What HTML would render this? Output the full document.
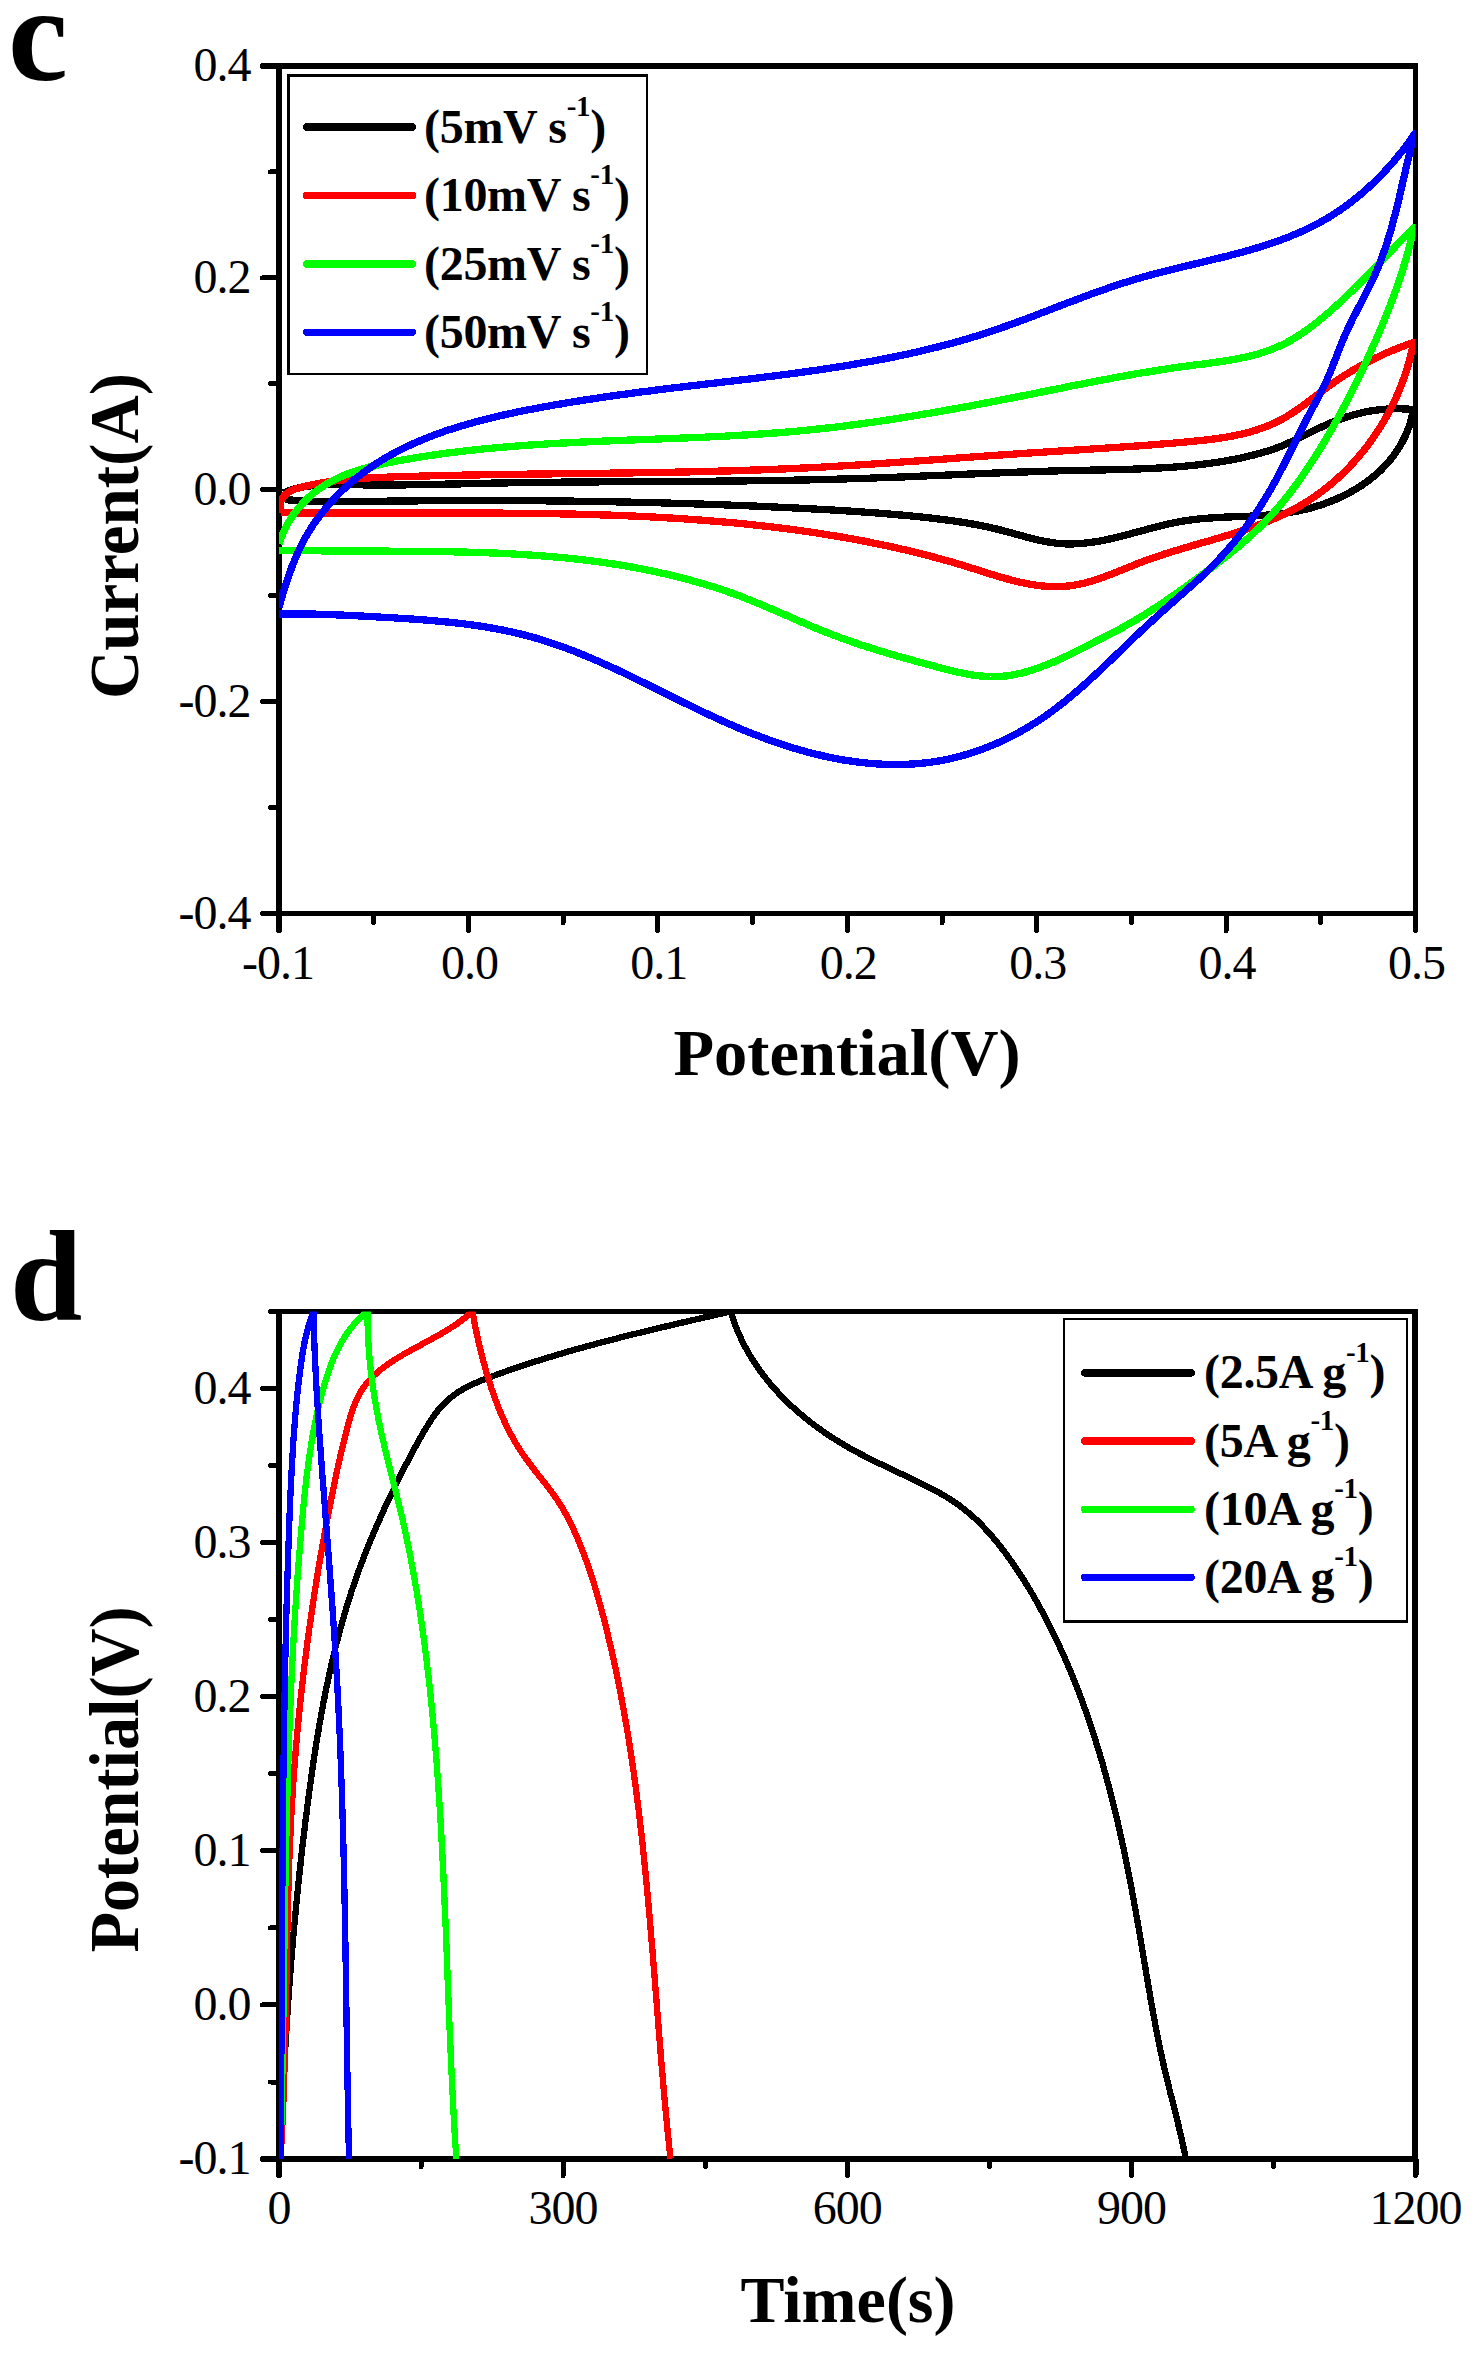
<!DOCTYPE html><html><head><meta charset="utf-8"><style>html,body{margin:0;padding:0;background:#fff;}svg{display:block;}text{font-family:"Liberation Serif",serif;}</style></head><body>
<svg xmlns="http://www.w3.org/2000/svg" width="1476" height="2354" viewBox="0 0 1476 2354" shape-rendering="crispEdges">
<rect width="1476" height="2354" fill="#fff"/>
<defs><clipPath id="cc"><rect x="279.0" y="66.0" width="1136.5" height="847.5"/></clipPath>
<clipPath id="cd"><rect x="279.0" y="1311.5" width="1136.5" height="847.5"/></clipPath></defs>
<text x="8" y="80" font-size="135" font-weight="bold">c</text>
<text x="10" y="1320" font-size="130" font-weight="bold">d</text>
<g fill="#000"><rect x="276" y="63" width="1142" height="6"/><rect x="276" y="911" width="1142" height="5"/><rect x="276" y="63" width="6" height="853"/><rect x="1413" y="63" width="5" height="853"/></g><g stroke="#000" stroke-linecap="round"><line x1="279.0" y1="913.5" x2="279.0" y2="930.0" stroke-width="6"/><line x1="468.4" y1="913.5" x2="468.4" y2="930.5" stroke-width="5"/><line x1="657.8" y1="913.5" x2="657.8" y2="930.5" stroke-width="5"/><line x1="847.3" y1="913.5" x2="847.3" y2="930.5" stroke-width="5"/><line x1="1036.7" y1="913.5" x2="1036.7" y2="930.5" stroke-width="5"/><line x1="1226.1" y1="913.5" x2="1226.1" y2="930.5" stroke-width="5"/><line x1="1415.5" y1="913.5" x2="1415.5" y2="930.5" stroke-width="5"/><line x1="373.7" y1="913.5" x2="373.7" y2="922.5" stroke-width="5"/><line x1="563.1" y1="913.5" x2="563.1" y2="922.5" stroke-width="5"/><line x1="752.5" y1="913.5" x2="752.5" y2="922.5" stroke-width="5"/><line x1="942.0" y1="913.5" x2="942.0" y2="922.5" stroke-width="5"/><line x1="1131.4" y1="913.5" x2="1131.4" y2="922.5" stroke-width="5"/><line x1="1320.8" y1="913.5" x2="1320.8" y2="922.5" stroke-width="5"/><line x1="279.0" y1="66.0" x2="263.0" y2="66.0" stroke-width="6"/><line x1="279.0" y1="277.9" x2="262.5" y2="277.9" stroke-width="5"/><line x1="279.0" y1="489.8" x2="262.5" y2="489.8" stroke-width="5"/><line x1="279.0" y1="701.6" x2="262.5" y2="701.6" stroke-width="5"/><line x1="279.0" y1="913.5" x2="262.5" y2="913.5" stroke-width="5"/><line x1="279.0" y1="807.6" x2="270.5" y2="807.6" stroke-width="5"/><line x1="279.0" y1="595.7" x2="270.5" y2="595.7" stroke-width="5"/><line x1="279.0" y1="383.8" x2="270.5" y2="383.8" stroke-width="5"/><line x1="279.0" y1="171.9" x2="270.5" y2="171.9" stroke-width="5"/></g>
<g fill="#000"><rect x="276" y="1309" width="1142" height="5"/><rect x="276" y="2156" width="1142" height="6"/><rect x="276" y="1309" width="6" height="853"/><rect x="1412" y="1309" width="6" height="853"/></g><g stroke="#000" stroke-linecap="round"><line x1="279.0" y1="2159.0" x2="279.0" y2="2175.0" stroke-width="6"/><line x1="563.1" y1="2159.0" x2="563.1" y2="2175.5" stroke-width="5"/><line x1="847.2" y1="2159.0" x2="847.2" y2="2175.5" stroke-width="5"/><line x1="1131.4" y1="2159.0" x2="1131.4" y2="2175.5" stroke-width="5"/><line x1="1415.5" y1="2159.0" x2="1415.5" y2="2175.0" stroke-width="6"/><line x1="421.1" y1="2159.0" x2="421.1" y2="2166.5" stroke-width="5"/><line x1="705.2" y1="2159.0" x2="705.2" y2="2166.5" stroke-width="5"/><line x1="989.3" y1="2159.0" x2="989.3" y2="2166.5" stroke-width="5"/><line x1="1273.4" y1="2159.0" x2="1273.4" y2="2166.5" stroke-width="5"/><line x1="279.0" y1="1388.5" x2="262.5" y2="1388.5" stroke-width="5"/><line x1="279.0" y1="1542.6" x2="262.5" y2="1542.6" stroke-width="5"/><line x1="279.0" y1="1696.7" x2="262.5" y2="1696.7" stroke-width="5"/><line x1="279.0" y1="1850.8" x2="262.5" y2="1850.8" stroke-width="5"/><line x1="279.0" y1="2004.9" x2="262.5" y2="2004.9" stroke-width="5"/><line x1="279.0" y1="2159.0" x2="263.0" y2="2159.0" stroke-width="6"/><line x1="279.0" y1="2082.0" x2="270.5" y2="2082.0" stroke-width="5"/><line x1="279.0" y1="1927.9" x2="270.5" y2="1927.9" stroke-width="5"/><line x1="279.0" y1="1773.8" x2="270.5" y2="1773.8" stroke-width="5"/><line x1="279.0" y1="1619.7" x2="270.5" y2="1619.7" stroke-width="5"/><line x1="279.0" y1="1465.6" x2="270.5" y2="1465.6" stroke-width="5"/><line x1="279.0" y1="1311.5" x2="270.5" y2="1311.5" stroke-width="5"/></g>
<g clip-path="url(#cc)" fill="none" stroke-width="7.3" stroke-linejoin="round" stroke-linecap="butt">
<path stroke="#000" d="M283.5,493.0L285.6,492.0L287.8,491.2L290.0,490.4L292.3,489.6L294.5,488.9L296.8,488.3L299.1,487.8L301.5,487.3L303.8,486.8L306.2,486.4L308.6,486.1L311.0,485.8L313.4,485.5L315.9,485.3L318.3,485.1L320.8,484.9L323.3,484.8L325.8,484.7L328.3,484.6L330.8,484.6L333.3,484.5L335.8,484.5L338.4,484.5L340.9,484.5L343.5,484.5L346.0,484.6L348.6,484.6L351.1,484.7L353.7,484.7L356.2,484.8L358.8,484.8L361.3,484.8L363.9,484.9L366.4,484.9L369.0,484.9L371.5,484.9L374.0,485.0L376.6,485.0L379.1,485.0L381.6,485.0L384.2,485.0L386.7,485.0L389.2,485.0L391.8,485.0L394.3,485.0L396.8,484.9L399.3,484.9L401.8,484.9L404.4,484.9L406.9,484.8L409.4,484.8L411.9,484.8L414.4,484.7L416.9,484.7L419.5,484.7L422.0,484.6L424.5,484.6L427.0,484.5L429.5,484.5L432.0,484.5L434.5,484.4L437.0,484.4L439.5,484.3L442.0,484.2L444.5,484.2L447.0,484.1L449.5,484.1L452.0,484.0L454.5,484.0L457.0,483.9L459.5,483.9L462.0,483.8L464.5,483.7L467.1,483.7L469.6,483.6L472.1,483.6L474.6,483.5L477.1,483.5L479.6,483.4L482.1,483.4L484.6,483.3L487.1,483.2L489.6,483.2L492.1,483.1L494.6,483.1L497.1,483.0L499.6,483.0L502.1,483.0L504.6,482.9L507.1,482.9L509.6,482.8L512.1,482.8L514.6,482.7L517.1,482.7L519.6,482.7L522.1,482.6L524.6,482.6L527.1,482.6L529.6,482.5L532.1,482.5L534.6,482.5L537.1,482.4L539.6,482.4L542.2,482.4L544.7,482.3L547.2,482.3L549.7,482.3L552.2,482.2L554.7,482.2L557.2,482.2L559.7,482.2L562.2,482.1L564.7,482.1L567.2,482.1L569.7,482.1L572.3,482.1L574.8,482.0L577.3,482.0L579.8,482.0L582.3,482.0L584.8,482.0L587.3,481.9L589.8,481.9L592.3,481.9L594.8,481.9L597.4,481.9L599.9,481.8L602.4,481.8L604.9,481.8L607.4,481.8L609.9,481.8L612.4,481.8L614.9,481.8L617.5,481.7L620.0,481.7L622.5,481.7L625.0,481.7L627.5,481.7L630.0,481.7L632.5,481.7L635.0,481.6L637.6,481.6L640.1,481.6L642.6,481.6L645.1,481.6L647.6,481.6L650.1,481.6L652.6,481.5L655.1,481.5L657.7,481.5L660.2,481.5L662.7,481.5L665.2,481.5L667.7,481.5L670.2,481.5L672.7,481.4L675.3,481.4L677.8,481.4L680.3,481.4L682.8,481.4L685.3,481.4L687.8,481.4L690.3,481.3L692.8,481.3L695.4,481.3L697.9,481.3L700.4,481.3L702.9,481.3L705.4,481.2L707.9,481.2L710.4,481.2L713.0,481.2L715.5,481.2L718.0,481.1L720.5,481.1L723.0,481.1L725.5,481.1L728.0,481.0L730.6,481.0L733.1,481.0L735.6,481.0L738.1,480.9L740.6,480.9L743.1,480.9L745.6,480.9L748.1,480.8L750.7,480.8L753.2,480.8L755.7,480.7L758.2,480.7L760.7,480.7L763.2,480.7L765.7,480.6L768.2,480.6L770.8,480.5L773.3,480.5L775.8,480.5L778.3,480.4L780.8,480.4L783.3,480.3L785.8,480.3L788.3,480.3L790.9,480.2L793.4,480.2L795.9,480.1L798.4,480.1L800.9,480.0L803.4,480.0L805.9,479.9L808.4,479.9L810.9,479.8L813.4,479.8L816.0,479.7L818.5,479.6L821.0,479.6L823.5,479.5L826.0,479.5L828.5,479.4L831.0,479.3L833.5,479.3L836.0,479.2L838.5,479.1L841.0,479.1L843.5,479.0L846.1,478.9L848.6,478.8L851.1,478.8L853.6,478.7L856.1,478.6L858.6,478.5L861.1,478.4L863.6,478.4L866.1,478.3L868.6,478.2L871.1,478.1L873.6,478.0L876.1,477.9L878.6,477.8L881.1,477.7L883.6,477.6L886.1,477.6L888.6,477.5L891.2,477.4L893.7,477.3L896.2,477.2L898.7,477.1L901.2,477.0L903.7,476.9L906.2,476.8L908.7,476.7L911.2,476.6L913.7,476.5L916.2,476.4L918.7,476.2L921.2,476.1L923.7,476.0L926.2,475.9L928.7,475.8L931.2,475.7L933.7,475.6L936.2,475.5L938.7,475.4L941.2,475.3L943.7,475.2L946.2,475.1L948.7,475.0L951.2,474.9L953.7,474.8L956.3,474.7L958.8,474.5L961.3,474.4L963.8,474.3L966.3,474.2L968.8,474.1L971.3,474.0L973.8,473.9L976.3,473.8L978.8,473.7L981.3,473.6L983.8,473.5L986.3,473.4L988.8,473.3L991.3,473.2L993.8,473.1L996.3,473.0L998.9,472.9L1001.4,472.8L1003.9,472.7L1006.4,472.6L1008.9,472.5L1011.4,472.4L1013.9,472.3L1016.4,472.2L1018.9,472.1L1021.4,472.0L1023.9,472.0L1026.5,471.9L1029.0,471.8L1031.5,471.7L1034.0,471.6L1036.5,471.5L1039.0,471.4L1041.5,471.4L1044.0,471.3L1046.6,471.2L1049.1,471.1L1051.6,471.1L1054.1,471.0L1056.6,470.9L1059.1,470.8L1061.6,470.8L1064.2,470.7L1066.7,470.7L1069.2,470.6L1071.7,470.5L1074.2,470.5L1076.8,470.4L1079.3,470.4L1081.8,470.3L1084.3,470.3L1086.8,470.2L1089.4,470.2L1091.9,470.1L1094.4,470.1L1096.9,470.0L1099.4,470.0L1102.0,469.9L1104.5,469.9L1107.0,469.8L1109.5,469.8L1112.0,469.7L1114.6,469.7L1117.1,469.6L1119.6,469.5L1122.1,469.5L1124.6,469.4L1127.2,469.3L1129.7,469.3L1132.2,469.2L1134.7,469.1L1137.2,469.0L1139.8,468.9L1142.3,468.8L1144.8,468.7L1147.3,468.6L1149.8,468.5L1152.3,468.4L1154.8,468.3L1157.3,468.1L1159.9,468.0L1162.4,467.8L1164.9,467.7L1167.4,467.5L1169.9,467.4L1172.4,467.2L1174.9,467.0L1177.4,466.8L1179.9,466.6L1182.4,466.4L1184.9,466.2L1187.4,465.9L1189.9,465.7L1192.3,465.4L1194.8,465.2L1197.3,464.9L1199.8,464.6L1202.3,464.3L1204.8,464.0L1207.3,463.7L1209.7,463.4L1212.2,463.0L1214.7,462.6L1217.1,462.3L1219.6,461.9L1222.1,461.5L1224.5,461.1L1227.0,460.7L1229.5,460.2L1231.9,459.8L1234.4,459.3L1236.8,458.8L1239.3,458.3L1241.7,457.8L1244.2,457.2L1246.6,456.7L1249.0,456.1L1251.5,455.5L1253.9,454.9L1256.3,454.3L1258.7,453.6L1261.1,453.0L1263.5,452.3L1265.9,451.5L1268.3,450.8L1270.7,450.0L1273.1,449.2L1275.4,448.4L1277.8,447.5L1280.1,446.6L1282.4,445.7L1284.7,444.7L1287.0,443.7L1289.3,442.7L1291.6,441.6L1293.9,440.6L1296.2,439.5L1298.4,438.4L1300.7,437.3L1302.9,436.2L1305.2,435.0L1307.5,433.9L1309.7,432.8L1312.0,431.7L1314.2,430.5L1316.5,429.4L1318.7,428.3L1321.0,427.2L1323.3,426.2L1325.6,425.1L1327.9,424.1L1330.2,423.1L1332.5,422.1L1334.8,421.2L1337.1,420.3L1339.5,419.4L1341.8,418.6L1344.2,417.8L1346.5,417.0L1348.9,416.2L1351.3,415.5L1353.7,414.8L1356.1,414.2L1358.5,413.6L1360.9,413.0L1363.4,412.4L1365.8,411.9L1368.2,411.4L1370.7,411.0L1373.2,410.6L1375.6,410.2L1378.1,409.9L1380.6,409.6L1383.1,409.4L1385.6,409.2L1388.1,409.0L1390.6,408.9L1393.1,408.8L1395.6,408.7L1398.2,408.7L1400.7,408.8L1403.3,408.9L1405.8,409.0L1408.4,409.1L1410.9,409.3L1413.5,409.6L1413.0,412.2L1412.4,414.8L1411.8,417.4L1411.1,419.9L1410.4,422.4L1409.6,424.9L1408.8,427.3L1407.9,429.7L1407.0,432.1L1406.0,434.4L1404.9,436.7L1403.8,438.9L1402.7,441.1L1401.5,443.3L1400.3,445.5L1399.0,447.6L1397.7,449.7L1396.3,451.7L1394.9,453.7L1393.5,455.7L1392.0,457.7L1390.5,459.6L1388.9,461.5L1387.3,463.3L1385.6,465.1L1383.9,466.9L1382.2,468.7L1380.5,470.4L1378.7,472.1L1376.9,473.7L1375.0,475.3L1373.1,476.9L1371.2,478.5L1369.2,480.0L1367.3,481.4L1365.3,482.9L1363.2,484.3L1361.2,485.7L1359.1,487.0L1356.9,488.4L1354.8,489.7L1352.6,490.9L1350.5,492.1L1348.3,493.3L1346.0,494.5L1343.8,495.6L1341.5,496.7L1339.2,497.7L1336.9,498.8L1334.6,499.8L1332.3,500.7L1329.9,501.7L1327.5,502.6L1325.2,503.4L1322.8,504.3L1320.4,505.1L1318.0,505.8L1315.5,506.6L1313.1,507.3L1310.7,508.0L1308.2,508.6L1305.8,509.2L1303.3,509.8L1300.8,510.4L1298.4,510.9L1295.9,511.4L1293.4,511.8L1290.9,512.3L1288.4,512.7L1286.0,513.0L1283.5,513.4L1281.0,513.7L1278.5,514.0L1276.0,514.3L1273.5,514.5L1271.0,514.7L1268.5,515.0L1266.0,515.2L1263.5,515.3L1261.0,515.5L1258.6,515.7L1256.1,515.8L1253.6,515.9L1251.1,516.1L1248.6,516.2L1246.1,516.3L1243.6,516.4L1241.1,516.5L1238.6,516.6L1236.0,516.7L1233.5,516.8L1231.0,516.9L1228.5,517.0L1226.0,517.1L1223.5,517.2L1221.0,517.4L1218.5,517.5L1216.0,517.6L1213.5,517.8L1211.0,518.0L1208.5,518.1L1206.0,518.3L1203.5,518.5L1201.0,518.8L1198.6,519.0L1196.1,519.3L1193.6,519.6L1191.1,519.9L1188.6,520.3L1186.1,520.6L1183.6,521.0L1181.1,521.4L1178.6,521.9L1176.2,522.4L1173.7,522.9L1171.2,523.4L1168.7,523.9L1166.2,524.5L1163.8,525.1L1161.3,525.7L1158.8,526.3L1156.3,526.9L1153.9,527.5L1151.4,528.2L1148.9,528.8L1146.5,529.5L1144.0,530.2L1141.5,530.8L1139.1,531.5L1136.6,532.2L1134.2,532.8L1131.7,533.5L1129.2,534.1L1126.8,534.8L1124.3,535.4L1121.9,536.0L1119.4,536.7L1117.0,537.3L1114.5,537.8L1112.0,538.4L1109.6,539.0L1107.1,539.5L1104.7,540.0L1102.2,540.5L1099.8,541.0L1097.3,541.4L1094.9,541.8L1092.4,542.2L1090.0,542.5L1087.5,542.8L1085.1,543.1L1082.6,543.3L1080.2,543.5L1077.7,543.7L1075.3,543.8L1072.9,543.9L1070.4,543.9L1068.0,543.9L1065.5,543.9L1063.1,543.7L1060.6,543.6L1058.2,543.4L1055.7,543.1L1053.3,542.8L1050.8,542.4L1048.4,542.0L1046.0,541.6L1043.5,541.1L1041.1,540.6L1038.6,540.1L1036.2,539.5L1033.7,538.9L1031.3,538.3L1028.8,537.7L1026.4,537.0L1023.9,536.4L1021.5,535.7L1019.0,535.0L1016.6,534.4L1014.1,533.7L1011.7,533.0L1009.2,532.3L1006.8,531.7L1004.3,531.0L1001.9,530.4L999.4,529.7L996.9,529.1L994.5,528.5L992.0,528.0L989.6,527.4L987.1,526.9L984.6,526.4L982.2,525.8L979.7,525.4L977.3,524.9L974.8,524.4L972.3,524.0L969.9,523.5L967.4,523.1L964.9,522.7L962.5,522.3L960.0,521.9L957.5,521.5L955.0,521.2L952.6,520.8L950.1,520.5L947.6,520.1L945.1,519.8L942.7,519.5L940.2,519.2L937.7,518.9L935.2,518.6L932.7,518.3L930.3,518.0L927.8,517.7L925.3,517.5L922.8,517.2L920.3,516.9L917.8,516.7L915.3,516.4L912.9,516.2L910.4,515.9L907.9,515.7L905.4,515.5L902.9,515.2L900.4,515.0L897.9,514.8L895.4,514.6L892.9,514.4L890.4,514.1L887.9,513.9L885.4,513.7L882.9,513.5L880.4,513.3L877.9,513.1L875.4,512.9L872.9,512.7L870.4,512.6L867.9,512.4L865.4,512.2L862.9,512.0L860.4,511.8L857.9,511.7L855.4,511.5L852.9,511.3L850.3,511.1L847.8,511.0L845.3,510.8L842.8,510.7L840.3,510.5L837.8,510.3L835.3,510.2L832.8,510.0L830.3,509.9L827.8,509.7L825.2,509.6L822.7,509.5L820.2,509.3L817.7,509.2L815.2,509.0L812.7,508.9L810.2,508.8L807.7,508.6L805.2,508.5L802.7,508.4L800.1,508.2L797.6,508.1L795.1,508.0L792.6,507.9L790.1,507.7L787.6,507.6L785.1,507.5L782.6,507.4L780.1,507.3L777.6,507.1L775.0,507.0L772.5,506.9L770.0,506.8L767.5,506.7L765.0,506.6L762.5,506.5L760.0,506.3L757.5,506.2L755.0,506.1L752.5,506.0L750.0,505.9L747.4,505.8L744.9,505.7L742.4,505.6L739.9,505.5L737.4,505.4L734.9,505.3L732.4,505.2L729.9,505.1L727.4,505.0L724.9,504.9L722.4,504.8L719.9,504.7L717.4,504.6L714.9,504.6L712.3,504.5L709.8,504.4L707.3,504.3L704.8,504.2L702.3,504.1L699.8,504.0L697.3,504.0L694.8,503.9L692.3,503.8L689.8,503.7L687.3,503.6L684.8,503.6L682.3,503.5L679.8,503.4L677.3,503.3L674.8,503.3L672.2,503.2L669.7,503.1L667.2,503.0L664.7,503.0L662.2,502.9L659.7,502.8L657.2,502.8L654.7,502.7L652.2,502.6L649.7,502.6L647.2,502.5L644.7,502.5L642.2,502.4L639.7,502.3L637.2,502.3L634.7,502.2L632.2,502.2L629.7,502.1L627.1,502.1L624.6,502.0L622.1,502.0L619.6,501.9L617.1,501.9L614.6,501.8L612.1,501.8L609.6,501.7L607.1,501.7L604.6,501.6L602.1,501.6L599.6,501.5L597.1,501.5L594.6,501.5L592.1,501.4L589.6,501.4L587.1,501.3L584.5,501.3L582.0,501.3L579.5,501.2L577.0,501.2L574.5,501.2L572.0,501.1L569.5,501.1L567.0,501.1L564.5,501.0L562.0,501.0L559.5,501.0L557.0,501.0L554.5,500.9L552.0,500.9L549.5,500.9L546.9,500.9L544.4,500.8L541.9,500.8L539.4,500.8L536.9,500.8L534.4,500.8L531.9,500.7L529.4,500.7L526.9,500.7L524.4,500.7L521.9,500.7L519.4,500.7L516.8,500.7L514.3,500.6L511.8,500.6L509.3,500.6L506.8,500.6L504.3,500.6L501.8,500.6L499.3,500.6L496.8,500.6L494.3,500.6L491.7,500.6L489.2,500.6L486.7,500.6L484.2,500.6L481.7,500.6L479.2,500.6L476.7,500.6L474.2,500.6L471.7,500.6L469.1,500.6L466.6,500.6L464.1,500.6L461.6,500.6L459.1,500.6L456.6,500.6L454.1,500.6L451.6,500.6L449.0,500.7L446.5,500.7L444.0,500.7L441.5,500.7L439.0,500.7L436.5,500.7L434.0,500.7L431.4,500.7L428.9,500.8L426.4,500.8L423.9,500.8L421.4,500.8L418.9,500.8L416.3,500.9L413.8,500.9L411.3,500.9L408.8,500.9L406.3,501.0L403.8,501.0L401.2,501.0L398.7,501.0L396.2,501.1L393.7,501.1L391.2,501.1L388.6,501.1L386.1,501.2L383.6,501.2L381.1,501.2L378.6,501.3L376.0,501.3L373.5,501.3L371.0,501.4L368.5,501.4L366.0,501.4L363.4,501.5L360.9,501.5L358.4,501.5L355.9,501.5L353.4,501.6L350.9,501.6L348.3,501.6L345.8,501.6L343.3,501.6L340.8,501.6L338.3,501.6L335.8,501.6L333.3,501.6L330.8,501.6L328.3,501.5L325.8,501.5L323.3,501.5L320.8,501.4L318.3,501.4L315.9,501.3L313.4,501.2L310.9,501.1L308.4,501.0L306.0,500.9L303.5,500.8L301.0,500.7L298.6,500.6L296.1,500.4L293.7,500.2L291.2,500.1L288.8,499.9L286.6,499.4L284.8,498.4L283.7,496.3L283.5,493.0"/>
<path stroke="#f00" d="M280.5,512.7L280.1,509.5L280.0,506.6L280.3,503.9L280.9,501.6L281.7,499.4L282.8,497.5L284.2,495.8L285.7,494.2L287.5,492.9L289.4,491.7L291.4,490.6L293.6,489.7L295.9,488.8L298.3,488.1L300.7,487.4L303.2,486.8L305.6,486.2L308.1,485.6L310.6,485.1L313.1,484.6L315.6,484.1L318.1,483.6L320.6,483.1L323.1,482.7L325.6,482.3L328.1,481.9L330.6,481.6L333.1,481.2L335.6,480.9L338.1,480.6L340.6,480.3L343.1,480.0L345.6,479.7L348.1,479.5L350.6,479.3L353.1,479.0L355.6,478.8L358.1,478.6L360.6,478.5L363.1,478.3L365.6,478.1L368.1,478.0L370.6,477.8L373.1,477.7L375.6,477.6L378.1,477.5L380.6,477.4L383.1,477.3L385.6,477.2L388.1,477.1L390.7,477.0L393.2,476.9L395.7,476.8L398.2,476.7L400.7,476.7L403.2,476.6L405.7,476.5L408.2,476.4L410.7,476.4L413.2,476.3L415.7,476.2L418.3,476.2L420.8,476.1L423.3,476.0L425.8,476.0L428.3,475.9L430.8,475.8L433.3,475.8L435.8,475.7L438.3,475.7L440.8,475.6L443.3,475.5L445.8,475.5L448.4,475.4L450.9,475.4L453.4,475.3L455.9,475.3L458.4,475.2L460.9,475.2L463.4,475.1L465.9,475.1L468.4,475.0L470.9,475.0L473.4,475.0L476.0,474.9L478.5,474.9L481.0,474.8L483.5,474.8L486.0,474.7L488.5,474.7L491.0,474.7L493.5,474.6L496.0,474.6L498.5,474.5L501.1,474.5L503.6,474.5L506.1,474.4L508.6,474.4L511.1,474.4L513.6,474.3L516.1,474.3L518.6,474.3L521.1,474.2L523.6,474.2L526.1,474.2L528.7,474.1L531.2,474.1L533.7,474.1L536.2,474.0L538.7,474.0L541.2,474.0L543.7,473.9L546.2,473.9L548.7,473.9L551.2,473.9L553.7,473.8L556.3,473.8L558.8,473.8L561.3,473.7L563.8,473.7L566.3,473.7L568.8,473.7L571.3,473.6L573.8,473.6L576.3,473.6L578.8,473.5L581.3,473.5L583.9,473.5L586.4,473.4L588.9,473.4L591.4,473.4L593.9,473.4L596.4,473.3L598.9,473.3L601.4,473.3L603.9,473.2L606.4,473.2L608.9,473.2L611.5,473.1L614.0,473.1L616.5,473.1L619.0,473.0L621.5,473.0L624.0,473.0L626.5,472.9L629.0,472.9L631.5,472.9L634.0,472.8L636.5,472.8L639.1,472.8L641.6,472.7L644.1,472.7L646.6,472.6L649.1,472.6L651.6,472.6L654.1,472.5L656.6,472.5L659.1,472.4L661.6,472.4L664.1,472.3L666.7,472.3L669.2,472.3L671.7,472.2L674.2,472.2L676.7,472.1L679.2,472.1L681.7,472.0L684.2,472.0L686.7,471.9L689.2,471.9L691.7,471.8L694.2,471.8L696.8,471.7L699.3,471.6L701.8,471.6L704.3,471.5L706.8,471.5L709.3,471.4L711.8,471.3L714.3,471.3L716.8,471.2L719.3,471.1L721.8,471.1L724.3,471.0L726.8,470.9L729.4,470.9L731.9,470.8L734.4,470.7L736.9,470.6L739.4,470.6L741.9,470.5L744.4,470.4L746.9,470.3L749.4,470.2L751.9,470.1L754.4,470.1L756.9,470.0L759.4,469.9L761.9,469.8L764.5,469.7L767.0,469.6L769.5,469.5L772.0,469.4L774.5,469.3L777.0,469.2L779.5,469.1L782.0,469.0L784.5,468.9L787.0,468.8L789.5,468.7L792.0,468.6L794.5,468.5L797.0,468.3L799.5,468.2L802.0,468.1L804.6,468.0L807.1,467.9L809.6,467.7L812.1,467.6L814.6,467.5L817.1,467.3L819.6,467.2L822.1,467.1L824.6,466.9L827.1,466.8L829.6,466.7L832.1,466.5L834.6,466.4L837.1,466.2L839.6,466.1L842.1,465.9L844.6,465.8L847.1,465.6L849.7,465.5L852.2,465.3L854.7,465.2L857.2,465.0L859.7,464.9L862.2,464.7L864.7,464.5L867.2,464.4L869.7,464.2L872.2,464.1L874.7,463.9L877.2,463.7L879.7,463.6L882.2,463.4L884.7,463.2L887.2,463.1L889.7,462.9L892.2,462.7L894.7,462.5L897.2,462.4L899.7,462.2L902.2,462.0L904.7,461.8L907.2,461.7L909.7,461.5L912.3,461.3L914.8,461.1L917.3,461.0L919.8,460.8L922.3,460.6L924.8,460.4L927.3,460.3L929.8,460.1L932.3,459.9L934.8,459.7L937.3,459.5L939.8,459.3L942.3,459.2L944.8,459.0L947.3,458.8L949.8,458.6L952.3,458.4L954.8,458.3L957.3,458.1L959.8,457.9L962.3,457.7L964.8,457.5L967.3,457.4L969.8,457.2L972.3,457.0L974.8,456.8L977.3,456.6L979.8,456.5L982.3,456.3L984.8,456.1L987.3,455.9L989.8,455.7L992.3,455.6L994.8,455.4L997.3,455.2L999.8,455.0L1002.3,454.9L1004.8,454.7L1007.3,454.5L1009.8,454.3L1012.3,454.2L1014.8,454.0L1017.3,453.8L1019.8,453.7L1022.4,453.5L1024.9,453.3L1027.4,453.1L1029.9,453.0L1032.4,452.8L1034.9,452.7L1037.4,452.5L1039.9,452.3L1042.4,452.2L1044.9,452.0L1047.4,451.8L1049.9,451.7L1052.4,451.5L1054.9,451.4L1057.4,451.2L1059.9,451.0L1062.4,450.9L1064.9,450.7L1067.4,450.6L1069.9,450.4L1072.4,450.3L1074.9,450.1L1077.4,449.9L1079.9,449.8L1082.4,449.6L1084.9,449.5L1087.4,449.3L1089.9,449.2L1092.4,449.0L1094.9,448.8L1097.4,448.7L1099.9,448.5L1102.4,448.3L1104.9,448.2L1107.4,448.0L1109.9,447.8L1112.4,447.7L1114.9,447.5L1117.4,447.3L1119.9,447.2L1122.4,447.0L1124.9,446.8L1127.4,446.7L1129.9,446.5L1132.4,446.3L1134.9,446.1L1137.5,445.9L1140.0,445.8L1142.5,445.6L1145.0,445.4L1147.5,445.2L1150.0,445.0L1152.5,444.8L1155.0,444.6L1157.5,444.4L1160.0,444.2L1162.5,444.0L1165.0,443.8L1167.5,443.6L1170.1,443.4L1172.6,443.2L1175.1,442.9L1177.6,442.7L1180.1,442.5L1182.6,442.3L1185.1,442.1L1187.6,441.8L1190.1,441.6L1192.7,441.3L1195.2,441.1L1197.7,440.8L1200.2,440.6L1202.7,440.3L1205.2,440.0L1207.7,439.7L1210.2,439.4L1212.7,439.1L1215.2,438.8L1217.7,438.5L1220.1,438.1L1222.6,437.7L1225.1,437.3L1227.6,436.9L1230.0,436.5L1232.5,436.0L1234.9,435.5L1237.3,435.0L1239.8,434.5L1242.2,433.9L1244.6,433.3L1247.0,432.7L1249.4,432.1L1251.7,431.4L1254.1,430.7L1256.5,430.0L1258.8,429.2L1261.1,428.4L1263.4,427.6L1265.8,426.7L1268.0,425.8L1270.3,424.8L1272.6,423.9L1274.8,422.8L1277.1,421.8L1279.3,420.6L1281.5,419.5L1283.6,418.3L1285.8,417.0L1288.0,415.7L1290.1,414.4L1292.2,413.1L1294.3,411.7L1296.4,410.2L1298.5,408.8L1300.6,407.3L1302.7,405.8L1304.7,404.3L1306.8,402.8L1308.8,401.2L1310.9,399.7L1312.9,398.1L1315.0,396.6L1317.0,395.0L1319.0,393.4L1321.1,391.9L1323.1,390.4L1325.2,388.8L1327.2,387.3L1329.3,385.8L1331.4,384.3L1333.4,382.9L1335.5,381.4L1337.6,380.0L1339.7,378.6L1341.8,377.2L1343.9,375.8L1346.0,374.5L1348.1,373.2L1350.3,371.9L1352.4,370.6L1354.6,369.3L1356.7,368.1L1358.9,366.8L1361.0,365.6L1363.2,364.4L1365.4,363.2L1367.6,362.1L1369.8,360.9L1372.0,359.8L1374.2,358.7L1376.5,357.6L1378.7,356.6L1381.0,355.5L1383.2,354.5L1385.5,353.4L1387.8,352.4L1390.0,351.5L1392.3,350.5L1394.7,349.5L1397.0,348.6L1399.3,347.7L1401.6,346.8L1404.0,345.9L1406.4,345.0L1408.7,344.2L1411.1,343.3L1413.5,342.5L1413.0,344.9L1412.5,347.3L1412.0,349.8L1411.5,352.2L1410.9,354.6L1410.3,357.0L1409.7,359.4L1409.0,361.8L1408.4,364.2L1407.7,366.6L1406.9,369.0L1406.2,371.4L1405.4,373.7L1404.6,376.1L1403.8,378.5L1402.9,380.8L1402.1,383.2L1401.2,385.5L1400.2,387.8L1399.3,390.2L1398.3,392.5L1397.3,394.8L1396.3,397.1L1395.2,399.4L1394.2,401.6L1393.1,403.9L1392.0,406.2L1390.8,408.4L1389.7,410.7L1388.5,412.9L1387.3,415.1L1386.0,417.3L1384.8,419.5L1383.5,421.7L1382.2,423.9L1380.9,426.0L1379.6,428.2L1378.2,430.3L1376.8,432.4L1375.4,434.5L1374.0,436.6L1372.5,438.7L1371.1,440.7L1369.6,442.8L1368.1,444.8L1366.6,446.8L1365.0,448.8L1363.4,450.8L1361.9,452.8L1360.2,454.7L1358.6,456.6L1357.0,458.5L1355.3,460.4L1353.6,462.3L1351.9,464.2L1350.2,466.0L1348.5,467.8L1346.7,469.6L1344.9,471.4L1343.1,473.1L1341.3,474.9L1339.5,476.6L1337.6,478.3L1335.8,480.0L1333.9,481.6L1332.0,483.3L1330.1,484.9L1328.2,486.5L1326.2,488.0L1324.2,489.6L1322.3,491.1L1320.3,492.6L1318.2,494.0L1316.2,495.5L1314.2,496.9L1312.1,498.3L1310.0,499.7L1307.9,501.0L1305.8,502.3L1303.7,503.6L1301.6,504.9L1299.4,506.1L1297.2,507.4L1295.1,508.6L1292.9,509.7L1290.7,510.9L1288.4,512.0L1286.2,513.1L1284.0,514.2L1281.7,515.3L1279.5,516.3L1277.2,517.3L1274.9,518.3L1272.6,519.3L1270.3,520.3L1268.0,521.2L1265.7,522.2L1263.3,523.1L1261.0,524.0L1258.7,524.9L1256.3,525.8L1254.0,526.6L1251.6,527.5L1249.2,528.3L1246.9,529.1L1244.5,529.9L1242.1,530.7L1239.7,531.5L1237.3,532.3L1235.0,533.0L1232.6,533.8L1230.2,534.5L1227.8,535.3L1225.4,536.0L1223.0,536.7L1220.6,537.5L1218.2,538.2L1215.8,538.9L1213.4,539.6L1211.0,540.3L1208.6,541.0L1206.2,541.7L1203.8,542.4L1201.4,543.0L1199.0,543.7L1196.6,544.4L1194.2,545.1L1191.8,545.8L1189.4,546.5L1187.1,547.2L1184.7,547.9L1182.3,548.6L1179.9,549.3L1177.6,550.0L1175.2,550.7L1172.8,551.4L1170.4,552.1L1168.1,552.9L1165.7,553.6L1163.3,554.4L1161.0,555.2L1158.6,556.0L1156.2,556.8L1153.8,557.6L1151.4,558.4L1149.1,559.3L1146.7,560.1L1144.3,561.0L1141.9,561.9L1139.5,562.8L1137.1,563.8L1134.8,564.7L1132.4,565.7L1130.0,566.7L1127.6,567.6L1125.2,568.6L1122.8,569.6L1120.4,570.6L1118.0,571.5L1115.6,572.5L1113.1,573.4L1110.7,574.4L1108.3,575.3L1105.9,576.2L1103.5,577.1L1101.1,577.9L1098.7,578.8L1096.3,579.6L1093.9,580.4L1091.4,581.1L1089.0,581.8L1086.6,582.5L1084.2,583.1L1081.8,583.7L1079.3,584.2L1076.9,584.7L1074.5,585.1L1072.1,585.5L1069.7,585.9L1067.3,586.1L1064.8,586.3L1062.4,586.5L1060.0,586.6L1057.6,586.7L1055.2,586.7L1052.8,586.6L1050.3,586.5L1047.9,586.4L1045.5,586.2L1043.1,586.0L1040.7,585.8L1038.2,585.5L1035.8,585.1L1033.4,584.8L1031.0,584.4L1028.6,583.9L1026.2,583.5L1023.7,583.0L1021.3,582.5L1018.9,581.9L1016.5,581.3L1014.1,580.7L1011.6,580.1L1009.2,579.5L1006.8,578.8L1004.4,578.2L1002.0,577.5L999.5,576.8L997.1,576.0L994.7,575.3L992.3,574.6L989.8,573.8L987.4,573.1L985.0,572.3L982.6,571.5L980.1,570.8L977.7,570.0L975.3,569.2L972.9,568.5L970.4,567.7L968.0,566.9L965.6,566.2L963.1,565.4L960.7,564.7L958.3,564.0L955.9,563.3L953.4,562.6L951.0,561.8L948.6,561.1L946.1,560.5L943.7,559.8L941.3,559.1L938.8,558.4L936.4,557.8L933.9,557.1L931.5,556.5L929.1,555.8L926.6,555.2L924.2,554.6L921.7,553.9L919.3,553.3L916.9,552.7L914.4,552.1L912.0,551.5L909.5,550.9L907.1,550.3L904.6,549.8L902.2,549.2L899.8,548.6L897.3,548.1L894.9,547.5L892.4,547.0L890.0,546.5L887.5,545.9L885.1,545.4L882.6,544.9L880.2,544.4L877.7,543.9L875.2,543.4L872.8,542.9L870.3,542.4L867.9,541.9L865.4,541.4L863.0,540.9L860.5,540.5L858.1,540.0L855.6,539.5L853.1,539.1L850.7,538.6L848.2,538.2L845.8,537.8L843.3,537.3L840.8,536.9L838.4,536.5L835.9,536.1L833.4,535.7L831.0,535.3L828.5,534.9L826.0,534.5L823.6,534.1L821.1,533.7L818.6,533.3L816.2,532.9L813.7,532.6L811.2,532.2L808.7,531.8L806.3,531.5L803.8,531.1L801.3,530.8L798.8,530.4L796.4,530.1L793.9,529.7L791.4,529.4L788.9,529.1L786.5,528.8L784.0,528.4L781.5,528.1L779.0,527.8L776.5,527.5L774.1,527.2L771.6,526.9L769.1,526.6L766.6,526.3L764.1,526.1L761.6,525.8L759.2,525.5L756.7,525.2L754.2,525.0L751.7,524.7L749.2,524.4L746.7,524.2L744.2,523.9L741.7,523.7L739.3,523.4L736.8,523.2L734.3,522.9L731.8,522.7L729.3,522.5L726.8,522.2L724.3,522.0L721.8,521.8L719.3,521.6L716.8,521.4L714.3,521.2L711.8,521.0L709.3,520.8L706.8,520.6L704.4,520.4L701.9,520.2L699.4,520.0L696.9,519.8L694.4,519.6L691.9,519.4L689.4,519.3L686.9,519.1L684.4,518.9L681.9,518.7L679.4,518.6L676.9,518.4L674.4,518.3L671.9,518.1L669.4,518.0L666.9,517.8L664.3,517.7L661.8,517.5L659.3,517.4L656.8,517.2L654.3,517.1L651.8,517.0L649.3,516.8L646.8,516.7L644.3,516.6L641.8,516.5L639.3,516.4L636.8,516.2L634.3,516.1L631.8,516.0L629.3,515.9L626.8,515.8L624.3,515.7L621.7,515.6L619.2,515.5L616.7,515.4L614.2,515.3L611.7,515.2L609.2,515.1L606.7,515.1L604.2,515.0L601.7,514.9L599.2,514.8L596.6,514.7L594.1,514.7L591.6,514.6L589.1,514.5L586.6,514.4L584.1,514.4L581.6,514.3L579.1,514.3L576.6,514.2L574.0,514.1L571.5,514.1L569.0,514.0L566.5,514.0L564.0,513.9L561.5,513.9L559.0,513.8L556.4,513.8L553.9,513.7L551.4,513.7L548.9,513.6L546.4,513.6L543.9,513.6L541.4,513.5L538.8,513.5L536.3,513.5L533.8,513.4L531.3,513.4L528.8,513.4L526.3,513.3L523.8,513.3L521.2,513.3L518.7,513.3L516.2,513.2L513.7,513.2L511.2,513.2L508.7,513.2L506.2,513.2L503.6,513.2L501.1,513.1L498.6,513.1L496.1,513.1L493.6,513.1L491.1,513.1L488.6,513.1L486.0,513.1L483.5,513.1L481.0,513.0L478.5,513.0L476.0,513.0L473.5,513.0L471.0,513.0L468.4,513.0L465.9,513.0L463.4,513.0L460.9,513.0L458.4,513.0L455.9,513.0L453.4,513.0L450.8,513.0L448.3,513.0L445.8,513.0L443.3,513.0L440.8,513.0L438.3,513.0L435.8,513.0L433.2,513.0L430.7,513.0L428.2,513.0L425.7,513.0L423.2,513.0L420.7,513.0L418.2,513.0L415.7,513.0L413.2,513.1L410.6,513.1L408.1,513.1L405.6,513.1L403.1,513.1L400.6,513.1L398.1,513.1L395.6,513.1L393.1,513.1L390.6,513.1L388.1,513.1L385.5,513.1L383.0,513.1L380.5,513.1L378.0,513.1L375.5,513.1L373.0,513.1L370.5,513.1L368.0,513.1L365.5,513.1L363.0,513.1L360.5,513.1L358.0,513.1L355.5,513.1L353.0,513.1L350.5,513.1L348.0,513.1L345.4,513.1L342.9,513.1L340.4,513.1L337.9,513.1L335.4,513.1L332.9,513.1L330.4,513.1L327.9,513.1L325.4,513.1L322.9,513.0L320.4,513.0L317.9,513.0L315.4,513.0L312.9,513.0L310.4,513.0L307.9,513.0L305.4,512.9L302.9,512.9L300.5,512.9L298.0,512.9L295.5,512.9L293.0,512.8L290.5,512.8L288.0,512.8L285.5,512.8L283.0,512.7L280.5,512.7"/>
<path stroke="#0f0" d="M279.0,544.0L279.7,541.6L280.6,539.2L281.4,536.9L282.4,534.5L283.4,532.2L284.4,529.9L285.6,527.6L286.7,525.4L288.0,523.2L289.3,521.0L290.6,518.9L292.0,516.7L293.5,514.6L295.0,512.6L296.5,510.6L298.1,508.6L299.7,506.7L301.4,504.8L303.1,502.9L304.9,501.1L306.6,499.3L308.5,497.6L310.3,495.9L312.2,494.3L314.1,492.7L316.1,491.2L318.1,489.7L320.1,488.3L322.1,486.9L324.1,485.6L326.2,484.3L328.3,483.1L330.5,481.9L332.6,480.7L334.8,479.6L337.0,478.5L339.2,477.5L341.4,476.5L343.7,475.5L346.0,474.6L348.3,473.7L350.6,472.8L352.9,472.0L355.2,471.2L357.6,470.4L359.9,469.7L362.3,469.0L364.7,468.3L367.1,467.6L369.5,467.0L372.0,466.4L374.4,465.8L376.8,465.2L379.3,464.6L381.7,464.1L384.2,463.5L386.7,463.0L389.1,462.5L391.6,462.0L394.1,461.6L396.6,461.1L399.0,460.6L401.5,460.2L404.0,459.7L406.5,459.3L409.0,458.9L411.5,458.5L413.9,458.0L416.4,457.6L418.9,457.2L421.4,456.8L423.9,456.4L426.4,456.1L428.9,455.7L431.3,455.3L433.8,455.0L436.3,454.6L438.8,454.3L441.3,453.9L443.8,453.6L446.3,453.2L448.8,452.9L451.3,452.6L453.8,452.3L456.2,452.0L458.7,451.7L461.2,451.4L463.7,451.1L466.2,450.8L468.7,450.5L471.2,450.2L473.7,450.0L476.2,449.7L478.7,449.4L481.2,449.2L483.7,448.9L486.2,448.7L488.7,448.4L491.2,448.2L493.6,448.0L496.1,447.7L498.6,447.5L501.1,447.3L503.6,447.1L506.1,446.9L508.6,446.7L511.1,446.5L513.6,446.3L516.1,446.1L518.6,445.9L521.1,445.7L523.6,445.5L526.1,445.3L528.6,445.1L531.1,445.0L533.6,444.8L536.1,444.6L538.6,444.5L541.1,444.3L543.6,444.2L546.1,444.0L548.6,443.8L551.1,443.7L553.6,443.6L556.1,443.4L558.6,443.3L561.1,443.1L563.6,443.0L566.1,442.9L568.6,442.7L571.1,442.6L573.6,442.5L576.1,442.4L578.6,442.2L581.1,442.1L583.6,442.0L586.1,441.9L588.6,441.8L591.1,441.7L593.7,441.6L596.2,441.4L598.7,441.3L601.2,441.2L603.7,441.1L606.2,441.0L608.7,440.9L611.2,440.8L613.7,440.7L616.2,440.6L618.7,440.5L621.2,440.4L623.7,440.3L626.2,440.2L628.7,440.1L631.2,440.0L633.7,439.9L636.2,439.8L638.7,439.8L641.2,439.7L643.7,439.6L646.2,439.5L648.7,439.4L651.2,439.3L653.7,439.2L656.2,439.1L658.7,439.0L661.2,438.9L663.7,438.8L666.2,438.7L668.7,438.6L671.3,438.5L673.8,438.4L676.3,438.3L678.8,438.2L681.3,438.1L683.8,438.0L686.3,437.9L688.8,437.8L691.3,437.7L693.8,437.6L696.3,437.5L698.8,437.4L701.3,437.3L703.8,437.2L706.3,437.1L708.8,436.9L711.3,436.8L713.8,436.7L716.3,436.6L718.8,436.5L721.3,436.3L723.8,436.2L726.3,436.1L728.8,435.9L731.3,435.8L733.8,435.7L736.3,435.5L738.8,435.4L741.3,435.2L743.8,435.1L746.3,434.9L748.8,434.8L751.3,434.6L753.8,434.5L756.3,434.3L758.8,434.1L761.3,434.0L763.8,433.8L766.3,433.6L768.8,433.4L771.3,433.2L773.8,433.1L776.2,432.9L778.7,432.7L781.2,432.5L783.7,432.3L786.2,432.1L788.7,431.9L791.2,431.6L793.7,431.4L796.2,431.2L798.7,431.0L801.2,430.7L803.7,430.5L806.2,430.2L808.7,430.0L811.2,429.7L813.6,429.5L816.1,429.2L818.6,429.0L821.1,428.7L823.6,428.4L826.1,428.1L828.6,427.9L831.1,427.6L833.6,427.3L836.0,427.0L838.5,426.7L841.0,426.4L843.5,426.1L846.0,425.8L848.5,425.4L851.0,425.1L853.5,424.8L855.9,424.5L858.4,424.1L860.9,423.8L863.4,423.5L865.9,423.1L868.4,422.8L870.8,422.4L873.3,422.1L875.8,421.7L878.3,421.4L880.8,421.0L883.2,420.6L885.7,420.3L888.2,419.9L890.7,419.5L893.2,419.1L895.6,418.7L898.1,418.4L900.6,418.0L903.1,417.6L905.5,417.2L908.0,416.8L910.5,416.4L913.0,416.0L915.5,415.6L917.9,415.2L920.4,414.7L922.9,414.3L925.3,413.9L927.8,413.5L930.3,413.1L932.8,412.6L935.2,412.2L937.7,411.8L940.2,411.4L942.7,410.9L945.1,410.5L947.6,410.0L950.1,409.6L952.5,409.2L955.0,408.7L957.5,408.3L959.9,407.8L962.4,407.4L964.9,406.9L967.3,406.5L969.8,406.0L972.3,405.5L974.7,405.1L977.2,404.6L979.7,404.1L982.1,403.7L984.6,403.2L987.0,402.7L989.5,402.3L992.0,401.8L994.4,401.3L996.9,400.9L999.3,400.4L1001.8,399.9L1004.3,399.4L1006.7,398.9L1009.2,398.5L1011.6,398.0L1014.1,397.5L1016.5,397.0L1019.0,396.5L1021.5,396.0L1023.9,395.5L1026.4,395.1L1028.8,394.6L1031.3,394.1L1033.7,393.6L1036.2,393.1L1038.6,392.6L1041.1,392.1L1043.5,391.6L1046.0,391.1L1048.4,390.6L1050.9,390.1L1053.3,389.7L1055.8,389.2L1058.2,388.7L1060.7,388.2L1063.1,387.7L1065.6,387.2L1068.0,386.7L1070.5,386.2L1072.9,385.7L1075.4,385.2L1077.8,384.8L1080.3,384.3L1082.7,383.8L1085.2,383.3L1087.6,382.8L1090.1,382.4L1092.5,381.9L1095.0,381.4L1097.4,380.9L1099.9,380.5L1102.4,380.0L1104.8,379.5L1107.3,379.1L1109.7,378.6L1112.2,378.2L1114.6,377.7L1117.1,377.2L1119.6,376.8L1122.0,376.3L1124.5,375.9L1127.0,375.5L1129.4,375.0L1131.9,374.6L1134.3,374.2L1136.8,373.7L1139.3,373.3L1141.8,372.9L1144.2,372.5L1146.7,372.1L1149.2,371.7L1151.7,371.3L1154.1,370.9L1156.6,370.5L1159.1,370.1L1161.6,369.7L1164.1,369.3L1166.5,368.9L1169.0,368.6L1171.5,368.2L1174.0,367.8L1176.5,367.5L1179.0,367.1L1181.5,366.8L1184.0,366.4L1186.5,366.1L1189.0,365.8L1191.5,365.5L1194.0,365.1L1196.5,364.8L1199.0,364.5L1201.5,364.2L1204.0,363.9L1206.5,363.5L1209.0,363.2L1211.5,362.9L1214.0,362.5L1216.5,362.2L1219.0,361.8L1221.5,361.5L1224.0,361.1L1226.5,360.7L1228.9,360.3L1231.4,359.9L1233.9,359.4L1236.3,359.0L1238.8,358.5L1241.2,358.0L1243.6,357.5L1246.1,357.0L1248.5,356.4L1250.9,355.8L1253.3,355.2L1255.7,354.6L1258.0,353.9L1260.4,353.2L1262.7,352.4L1265.1,351.7L1267.4,350.9L1269.7,350.1L1272.0,349.2L1274.3,348.3L1276.6,347.3L1278.8,346.3L1281.1,345.3L1283.3,344.2L1285.5,343.1L1287.7,342.0L1289.9,340.8L1292.0,339.6L1294.2,338.3L1296.3,337.0L1298.4,335.6L1300.5,334.3L1302.6,332.9L1304.7,331.4L1306.8,330.0L1308.8,328.5L1310.8,327.0L1312.9,325.5L1314.9,323.9L1316.9,322.3L1318.8,320.7L1320.8,319.1L1322.8,317.5L1324.7,315.9L1326.7,314.2L1328.6,312.6L1330.5,310.9L1332.4,309.2L1334.3,307.5L1336.2,305.8L1338.0,304.1L1339.9,302.4L1341.8,300.7L1343.6,298.9L1345.4,297.2L1347.3,295.5L1349.1,293.7L1350.9,292.0L1352.7,290.2L1354.5,288.5L1356.3,286.7L1358.1,284.9L1359.8,283.1L1361.6,281.4L1363.4,279.6L1365.2,277.8L1366.9,276.0L1368.7,274.2L1370.4,272.4L1372.2,270.6L1373.9,268.8L1375.6,267.0L1377.4,265.2L1379.1,263.4L1380.8,261.6L1382.6,259.8L1384.3,258.0L1386.0,256.2L1387.8,254.4L1389.5,252.6L1391.2,250.8L1392.9,249.0L1394.7,247.2L1396.4,245.4L1398.1,243.6L1399.9,241.9L1401.6,240.1L1403.3,238.3L1405.1,236.5L1406.8,234.7L1408.5,233.0L1410.3,231.2L1412.0,229.5L1413.8,227.7L1413.3,230.2L1412.7,232.6L1412.2,235.1L1411.6,237.5L1411.0,240.0L1410.4,242.4L1409.8,244.9L1409.2,247.3L1408.6,249.7L1407.9,252.1L1407.2,254.6L1406.6,257.0L1405.9,259.4L1405.2,261.8L1404.4,264.2L1403.7,266.6L1403.0,268.9L1402.2,271.3L1401.4,273.7L1400.7,276.1L1399.9,278.5L1399.1,280.8L1398.3,283.2L1397.5,285.5L1396.6,287.9L1395.8,290.2L1394.9,292.6L1394.1,294.9L1393.2,297.3L1392.3,299.6L1391.5,302.0L1390.6,304.3L1389.7,306.6L1388.7,308.9L1387.8,311.3L1386.9,313.6L1386.0,315.9L1385.0,318.2L1384.1,320.5L1383.1,322.8L1382.2,325.2L1381.2,327.5L1380.2,329.8L1379.2,332.1L1378.3,334.4L1377.3,336.7L1376.3,339.0L1375.3,341.3L1374.3,343.6L1373.2,345.9L1372.2,348.1L1371.2,350.4L1370.2,352.7L1369.1,355.0L1368.1,357.3L1367.1,359.6L1366.0,361.9L1365.0,364.1L1363.9,366.4L1362.9,368.7L1361.8,371.0L1360.7,373.2L1359.6,375.5L1358.5,377.8L1357.5,380.0L1356.4,382.3L1355.3,384.5L1354.1,386.8L1353.0,389.0L1351.9,391.3L1350.8,393.5L1349.7,395.8L1348.5,398.0L1347.4,400.2L1346.2,402.5L1345.1,404.7L1343.9,406.9L1342.7,409.1L1341.5,411.3L1340.4,413.6L1339.2,415.8L1338.0,418.0L1336.8,420.2L1335.5,422.4L1334.3,424.5L1333.1,426.7L1331.9,428.9L1330.6,431.1L1329.4,433.3L1328.1,435.4L1326.8,437.6L1325.6,439.7L1324.3,441.9L1323.0,444.0L1321.7,446.2L1320.4,448.3L1319.1,450.4L1317.8,452.6L1316.4,454.7L1315.1,456.8L1313.7,458.9L1312.4,461.0L1311.0,463.1L1309.6,465.2L1308.3,467.2L1306.9,469.3L1305.5,471.4L1304.1,473.5L1302.6,475.5L1301.2,477.6L1299.8,479.6L1298.3,481.6L1296.9,483.6L1295.4,485.7L1293.9,487.7L1292.4,489.6L1290.9,491.6L1289.4,493.6L1287.8,495.6L1286.3,497.5L1284.7,499.5L1283.2,501.4L1281.6,503.3L1280.0,505.2L1278.4,507.2L1276.8,509.0L1275.1,510.9L1273.5,512.8L1271.8,514.6L1270.1,516.5L1268.4,518.3L1266.7,520.1L1265.0,521.9L1263.3,523.7L1261.5,525.5L1259.7,527.2L1257.9,529.0L1256.1,530.7L1254.3,532.4L1252.5,534.2L1250.6,535.9L1248.8,537.5L1246.9,539.2L1245.0,540.9L1243.1,542.5L1241.2,544.2L1239.3,545.8L1237.3,547.4L1235.4,549.0L1233.5,550.6L1231.5,552.2L1229.5,553.8L1227.6,555.4L1225.6,556.9L1223.6,558.5L1221.6,560.0L1219.6,561.6L1217.6,563.1L1215.6,564.7L1213.6,566.2L1211.6,567.7L1209.6,569.2L1207.6,570.7L1205.6,572.2L1203.6,573.7L1201.5,575.2L1199.5,576.7L1197.5,578.2L1195.5,579.7L1193.5,581.2L1191.4,582.6L1189.4,584.1L1187.4,585.6L1185.4,587.0L1183.3,588.5L1181.3,589.9L1179.3,591.4L1177.3,592.8L1175.2,594.2L1173.2,595.7L1171.1,597.1L1169.1,598.5L1167.0,599.9L1165.0,601.3L1162.9,602.7L1160.9,604.1L1158.8,605.4L1156.7,606.8L1154.7,608.2L1152.6,609.5L1150.5,610.9L1148.4,612.2L1146.3,613.5L1144.2,614.8L1142.1,616.1L1139.9,617.4L1137.8,618.7L1135.7,620.0L1133.5,621.2L1131.4,622.5L1129.2,623.7L1127.1,625.0L1124.9,626.2L1122.7,627.4L1120.5,628.6L1118.3,629.8L1116.1,630.9L1113.9,632.1L1111.6,633.3L1109.4,634.4L1107.2,635.6L1104.9,636.7L1102.7,637.9L1100.5,639.0L1098.2,640.2L1096.0,641.3L1093.7,642.5L1091.5,643.6L1089.2,644.8L1087.0,646.0L1084.7,647.1L1082.5,648.3L1080.2,649.4L1077.9,650.5L1075.7,651.6L1073.4,652.8L1071.1,653.9L1068.8,655.0L1066.6,656.1L1064.3,657.1L1062.0,658.2L1059.7,659.2L1057.4,660.3L1055.1,661.3L1052.8,662.3L1050.4,663.2L1048.1,664.2L1045.8,665.1L1043.4,666.0L1041.1,666.9L1038.7,667.8L1036.4,668.6L1034.0,669.4L1031.7,670.2L1029.3,670.9L1026.9,671.6L1024.5,672.3L1022.1,672.9L1019.7,673.5L1017.3,674.0L1014.9,674.5L1012.5,674.9L1010.1,675.3L1007.6,675.7L1005.2,676.0L1002.8,676.2L1000.3,676.4L997.9,676.5L995.4,676.6L993.0,676.6L990.5,676.6L988.0,676.5L985.6,676.4L983.1,676.2L980.6,676.0L978.2,675.7L975.7,675.4L973.2,675.1L970.7,674.7L968.3,674.3L965.8,673.8L963.3,673.3L960.8,672.8L958.4,672.3L955.9,671.8L953.4,671.2L951.0,670.6L948.5,670.0L946.0,669.3L943.6,668.7L941.1,668.0L938.6,667.4L936.2,666.7L933.7,666.0L931.3,665.4L928.8,664.7L926.4,664.0L923.9,663.3L921.5,662.7L919.0,662.0L916.6,661.3L914.2,660.7L911.8,660.0L909.3,659.4L906.9,658.7L904.5,658.0L902.1,657.3L899.7,656.7L897.3,656.0L894.9,655.3L892.5,654.6L890.1,653.9L887.7,653.2L885.3,652.5L882.9,651.8L880.5,651.1L878.2,650.3L875.8,649.6L873.4,648.9L871.1,648.1L868.7,647.4L866.3,646.6L864.0,645.8L861.6,645.1L859.3,644.3L856.9,643.5L854.6,642.7L852.2,641.9L849.9,641.1L847.5,640.2L845.2,639.4L842.9,638.6L840.5,637.7L838.2,636.8L835.9,636.0L833.5,635.1L831.2,634.2L828.9,633.3L826.5,632.4L824.2,631.5L821.9,630.6L819.6,629.6L817.2,628.7L814.9,627.7L812.6,626.8L810.3,625.8L808.0,624.8L805.6,623.8L803.3,622.8L801.0,621.8L798.7,620.8L796.4,619.8L794.0,618.8L791.7,617.8L789.4,616.8L787.1,615.7L784.8,614.7L782.4,613.7L780.1,612.7L777.8,611.7L775.5,610.7L773.1,609.7L770.8,608.7L768.5,607.7L766.1,606.7L763.8,605.7L761.5,604.7L759.1,603.7L756.8,602.8L754.5,601.8L752.1,600.9L749.8,599.9L747.4,599.0L745.1,598.1L742.7,597.2L740.4,596.3L738.0,595.4L735.6,594.5L733.3,593.7L730.9,592.8L728.5,592.0L726.2,591.2L723.8,590.4L721.4,589.6L719.0,588.8L716.7,588.0L714.3,587.2L711.9,586.5L709.5,585.7L707.1,585.0L704.7,584.3L702.3,583.6L699.9,582.9L697.5,582.2L695.1,581.5L692.7,580.8L690.3,580.2L687.9,579.5L685.5,578.9L683.1,578.2L680.7,577.6L678.3,577.0L675.8,576.4L673.4,575.8L671.0,575.2L668.6,574.6L666.2,574.1L663.7,573.5L661.3,573.0L658.9,572.4L656.4,571.9L654.0,571.4L651.6,570.9L649.1,570.4L646.7,569.9L644.2,569.4L641.8,568.9L639.3,568.4L636.9,568.0L634.4,567.5L632.0,567.1L629.5,566.6L627.1,566.2L624.6,565.8L622.2,565.4L619.7,565.0L617.3,564.6L614.8,564.2L612.3,563.8L609.9,563.4L607.4,563.1L604.9,562.7L602.5,562.4L600.0,562.0L597.5,561.7L595.0,561.4L592.6,561.0L590.1,560.7L587.6,560.4L585.1,560.1L582.6,559.8L580.2,559.5L577.7,559.3L575.2,559.0L572.7,558.7L570.2,558.4L567.7,558.2L565.3,557.9L562.8,557.7L560.3,557.5L557.8,557.2L555.3,557.0L552.8,556.8L550.3,556.6L547.8,556.4L545.3,556.2L542.8,556.0L540.3,555.8L537.8,555.6L535.3,555.4L532.8,555.2L530.3,555.0L527.8,554.9L525.3,554.7L522.8,554.6L520.3,554.4L517.8,554.3L515.3,554.1L512.8,554.0L510.3,553.8L507.8,553.7L505.2,553.6L502.7,553.5L500.2,553.4L497.7,553.2L495.2,553.1L492.7,553.0L490.2,552.9L487.7,552.8L485.1,552.7L482.6,552.6L480.1,552.6L477.6,552.5L475.1,552.4L472.6,552.3L470.1,552.3L467.5,552.2L465.0,552.1L462.5,552.1L460.0,552.0L457.5,551.9L455.0,551.9L452.4,551.8L449.9,551.8L447.4,551.7L444.9,551.7L442.4,551.6L439.9,551.6L437.3,551.6L434.8,551.5L432.3,551.5L429.8,551.5L427.3,551.4L424.7,551.4L422.2,551.4L419.7,551.4L417.2,551.3L414.7,551.3L412.2,551.3L409.6,551.3L407.1,551.2L404.6,551.2L402.1,551.2L399.6,551.2L397.1,551.2L394.5,551.2L392.0,551.2L389.5,551.2L387.0,551.1L384.5,551.1L382.0,551.1L379.4,551.1L376.9,551.1L374.4,551.1L371.9,551.1L369.4,551.1L366.9,551.1L364.4,551.1L361.9,551.1L359.4,551.1L356.8,551.1L354.3,551.0L351.8,551.0L349.3,551.0L346.8,551.0L344.3,551.0L341.8,551.0L339.3,551.0L336.8,551.0L334.3,551.0L331.8,550.9L329.3,550.9L326.8,550.9L324.3,550.9L321.8,550.9L319.3,550.8L316.8,550.8L314.3,550.8L311.8,550.8L309.3,550.7L306.8,550.7L304.3,550.7L301.8,550.7L299.4,550.6L296.9,550.6L294.4,550.5L291.9,550.5L289.4,550.5L286.9,550.4L284.4,550.4L282.0,550.3L279.5,550.3L277.0,550.2"/>
<path stroke="#00f" d="M279.0,607.5L279.7,605.1L280.3,602.7L281.0,600.3L281.7,597.9L282.4,595.5L283.1,593.1L283.9,590.7L284.6,588.3L285.4,585.9L286.1,583.5L286.9,581.1L287.7,578.7L288.5,576.4L289.3,574.0L290.2,571.6L291.1,569.2L291.9,566.9L292.8,564.5L293.8,562.2L294.7,559.9L295.7,557.5L296.7,555.2L297.7,552.9L298.8,550.6L299.8,548.4L300.9,546.1L302.1,543.9L303.2,541.6L304.4,539.4L305.6,537.2L306.9,535.0L308.2,532.9L309.5,530.7L310.8,528.6L312.2,526.5L313.5,524.4L315.0,522.3L316.4,520.3L317.9,518.3L319.4,516.2L320.9,514.2L322.4,512.3L324.0,510.3L325.6,508.4L327.2,506.4L328.8,504.5L330.5,502.7L332.2,500.8L333.9,499.0L335.6,497.1L337.3,495.4L339.1,493.6L340.9,491.8L342.7,490.1L344.5,488.4L346.3,486.7L348.2,485.0L350.1,483.4L352.0,481.7L353.9,480.1L355.8,478.5L357.7,477.0L359.7,475.5L361.7,473.9L363.6,472.5L365.6,471.0L367.7,469.5L369.7,468.1L371.7,466.7L373.8,465.3L375.8,464.0L377.9,462.6L380.0,461.3L382.1,460.0L384.2,458.7L386.4,457.5L388.5,456.3L390.7,455.0L392.8,453.8L395.0,452.7L397.2,451.5L399.4,450.4L401.6,449.2L403.8,448.1L406.1,447.0L408.3,446.0L410.6,444.9L412.8,443.9L415.1,442.9L417.4,441.9L419.7,440.9L422.0,439.9L424.3,438.9L426.6,438.0L428.9,437.1L431.2,436.2L433.6,435.3L435.9,434.4L438.3,433.6L440.6,432.7L443.0,431.9L445.4,431.0L447.8,430.2L450.2,429.4L452.6,428.7L455.0,427.9L457.4,427.1L459.8,426.4L462.2,425.7L464.6,425.0L467.1,424.3L469.5,423.6L471.9,422.9L474.4,422.2L476.8,421.5L479.3,420.9L481.7,420.3L484.2,419.6L486.7,419.0L489.1,418.4L491.6,417.8L494.1,417.2L496.5,416.6L499.0,416.0L501.5,415.5L504.0,414.9L506.5,414.4L508.9,413.8L511.4,413.3L513.9,412.8L516.4,412.2L518.9,411.7L521.4,411.2L523.9,410.7L526.3,410.2L528.8,409.7L531.3,409.3L533.8,408.8L536.3,408.3L538.8,407.8L541.3,407.4L543.7,406.9L546.2,406.5L548.7,406.0L551.2,405.6L553.7,405.1L556.1,404.7L558.6,404.3L561.1,403.9L563.6,403.4L566.0,403.0L568.5,402.6L571.0,402.2L573.5,401.8L575.9,401.4L578.4,401.0L580.9,400.6L583.4,400.2L585.8,399.8L588.3,399.5L590.8,399.1L593.2,398.7L595.7,398.3L598.2,398.0L600.6,397.6L603.1,397.2L605.6,396.9L608.0,396.5L610.5,396.2L613.0,395.8L615.4,395.5L617.9,395.1L620.4,394.8L622.8,394.5L625.3,394.1L627.8,393.8L630.3,393.5L632.7,393.1L635.2,392.8L637.7,392.5L640.1,392.1L642.6,391.8L645.1,391.5L647.5,391.2L650.0,390.9L652.5,390.6L654.9,390.3L657.4,389.9L659.9,389.6L662.3,389.3L664.8,389.0L667.3,388.7L669.7,388.4L672.2,388.1L674.7,387.8L677.2,387.5L679.6,387.2L682.1,386.9L684.6,386.6L687.1,386.3L689.5,386.0L692.0,385.7L694.5,385.4L697.0,385.2L699.4,384.9L701.9,384.6L704.4,384.3L706.9,384.0L709.4,383.7L711.9,383.4L714.3,383.1L716.8,382.8L719.3,382.5L721.8,382.2L724.3,381.9L726.8,381.6L729.3,381.3L731.7,381.1L734.2,380.8L736.7,380.5L739.2,380.2L741.7,379.9L744.2,379.6L746.7,379.3L749.2,379.0L751.7,378.7L754.2,378.4L756.7,378.1L759.2,377.8L761.7,377.5L764.2,377.1L766.7,376.8L769.2,376.5L771.6,376.2L774.1,375.9L776.6,375.6L779.1,375.3L781.6,374.9L784.1,374.6L786.6,374.3L789.1,374.0L791.6,373.6L794.1,373.3L796.6,373.0L799.1,372.6L801.6,372.3L804.1,371.9L806.6,371.6L809.1,371.2L811.6,370.9L814.1,370.5L816.6,370.2L819.1,369.8L821.6,369.4L824.1,369.1L826.5,368.7L829.0,368.3L831.5,367.9L834.0,367.5L836.5,367.2L839.0,366.8L841.5,366.4L844.0,366.0L846.4,365.6L848.9,365.2L851.4,364.7L853.9,364.3L856.4,363.9L858.9,363.5L861.3,363.0L863.8,362.6L866.3,362.2L868.8,361.7L871.2,361.3L873.7,360.8L876.2,360.4L878.7,359.9L881.1,359.4L883.6,359.0L886.1,358.5L888.5,358.0L891.0,357.5L893.5,357.0L895.9,356.5L898.4,356.0L900.8,355.5L903.3,354.9L905.7,354.4L908.2,353.9L910.6,353.3L913.1,352.8L915.5,352.3L918.0,351.7L920.4,351.1L922.9,350.6L925.3,350.0L927.7,349.4L930.2,348.8L932.6,348.2L935.0,347.6L937.5,347.0L939.9,346.4L942.3,345.7L944.7,345.1L947.2,344.5L949.6,343.8L952.0,343.2L954.4,342.5L956.8,341.8L959.2,341.1L961.6,340.5L964.0,339.8L966.4,339.1L968.8,338.4L971.2,337.6L973.6,336.9L976.0,336.2L978.4,335.4L980.8,334.7L983.1,333.9L985.5,333.1L987.9,332.4L990.3,331.6L992.6,330.8L995.0,330.0L997.3,329.2L999.7,328.4L1002.1,327.5L1004.4,326.7L1006.8,325.9L1009.1,325.0L1011.5,324.2L1013.8,323.3L1016.2,322.5L1018.5,321.6L1020.9,320.7L1023.2,319.9L1025.6,319.0L1027.9,318.1L1030.2,317.2L1032.6,316.4L1034.9,315.5L1037.3,314.6L1039.6,313.7L1041.9,312.8L1044.3,311.9L1046.6,311.0L1048.9,310.1L1051.3,309.2L1053.6,308.3L1055.9,307.4L1058.3,306.5L1060.6,305.6L1063.0,304.7L1065.3,303.8L1067.6,302.9L1070.0,302.0L1072.3,301.1L1074.7,300.3L1077.0,299.4L1079.3,298.5L1081.7,297.6L1084.0,296.7L1086.4,295.9L1088.7,295.0L1091.1,294.1L1093.5,293.3L1095.8,292.4L1098.2,291.6L1100.5,290.7L1102.9,289.9L1105.3,289.1L1107.6,288.3L1110.0,287.4L1112.4,286.6L1114.8,285.8L1117.1,285.0L1119.5,284.3L1121.9,283.5L1124.3,282.7L1126.7,282.0L1129.1,281.2L1131.5,280.5L1133.9,279.7L1136.3,279.0L1138.7,278.3L1141.1,277.6L1143.6,276.9L1146.0,276.2L1148.4,275.6L1150.9,274.9L1153.3,274.2L1155.7,273.6L1158.2,273.0L1160.6,272.3L1163.1,271.7L1165.5,271.1L1168.0,270.5L1170.4,269.8L1172.9,269.2L1175.3,268.6L1177.8,268.0L1180.2,267.4L1182.7,266.9L1185.1,266.3L1187.6,265.7L1190.1,265.1L1192.5,264.5L1195.0,263.9L1197.4,263.3L1199.9,262.8L1202.3,262.2L1204.8,261.6L1207.2,261.0L1209.7,260.4L1212.2,259.8L1214.6,259.2L1217.0,258.6L1219.5,258.0L1221.9,257.4L1224.4,256.8L1226.8,256.2L1229.2,255.6L1231.7,254.9L1234.1,254.3L1236.5,253.7L1239.0,253.0L1241.4,252.4L1243.8,251.7L1246.2,251.0L1248.6,250.3L1251.0,249.7L1253.4,249.0L1255.8,248.2L1258.2,247.5L1260.6,246.8L1262.9,246.0L1265.3,245.3L1267.7,244.5L1270.0,243.7L1272.4,243.0L1274.7,242.1L1277.1,241.3L1279.4,240.5L1281.7,239.6L1284.0,238.8L1286.3,237.9L1288.6,237.0L1290.9,236.1L1293.2,235.1L1295.5,234.2L1297.8,233.2L1300.0,232.2L1302.3,231.2L1304.5,230.2L1306.8,229.1L1309.0,228.1L1311.2,227.0L1313.4,225.9L1315.6,224.7L1317.8,223.6L1320.0,222.4L1322.1,221.2L1324.3,220.0L1326.4,218.7L1328.6,217.5L1330.7,216.2L1332.8,214.9L1334.9,213.5L1337.0,212.1L1339.1,210.8L1341.1,209.3L1343.2,207.9L1345.2,206.4L1347.2,205.0L1349.3,203.5L1351.3,201.9L1353.2,200.4L1355.2,198.8L1357.2,197.2L1359.1,195.6L1361.1,194.0L1363.0,192.4L1364.9,190.7L1366.8,189.0L1368.6,187.3L1370.5,185.6L1372.3,183.9L1374.2,182.1L1376.0,180.4L1377.8,178.6L1379.6,176.8L1381.3,175.0L1383.1,173.2L1384.8,171.3L1386.5,169.5L1388.2,167.6L1389.9,165.7L1391.6,163.8L1393.3,161.9L1394.9,160.0L1396.5,158.0L1398.1,156.1L1399.7,154.1L1401.3,152.2L1402.8,150.2L1404.3,148.2L1405.8,146.2L1407.3,144.2L1408.8,142.2L1410.3,140.1L1411.7,138.1L1413.1,136.1L1414.5,134.0L1413.9,136.4L1413.2,138.8L1412.6,141.2L1412.0,143.6L1411.4,146.1L1410.7,148.5L1410.1,150.9L1409.6,153.3L1409.0,155.8L1408.4,158.2L1407.8,160.7L1407.2,163.1L1406.7,165.5L1406.1,168.0L1405.5,170.4L1405.0,172.9L1404.4,175.3L1403.8,177.8L1403.3,180.2L1402.7,182.7L1402.1,185.1L1401.6,187.6L1401.0,190.0L1400.4,192.5L1399.9,194.9L1399.3,197.4L1398.7,199.8L1398.1,202.2L1397.5,204.7L1396.9,207.1L1396.3,209.6L1395.7,212.0L1395.1,214.4L1394.4,216.9L1393.8,219.3L1393.2,221.7L1392.5,224.1L1391.8,226.5L1391.2,228.9L1390.5,231.4L1389.8,233.8L1389.0,236.2L1388.3,238.5L1387.6,240.9L1386.8,243.3L1386.0,245.7L1385.3,248.1L1384.4,250.4L1383.6,252.8L1382.8,255.1L1381.9,257.5L1381.1,259.8L1380.2,262.2L1379.3,264.5L1378.3,266.8L1377.4,269.1L1376.4,271.4L1375.4,273.7L1374.4,276.0L1373.3,278.2L1372.3,280.5L1371.2,282.8L1370.1,285.0L1369.0,287.3L1367.9,289.5L1366.7,291.8L1365.6,294.0L1364.5,296.2L1363.3,298.4L1362.1,300.7L1361.0,302.9L1359.8,305.1L1358.6,307.4L1357.5,309.6L1356.3,311.8L1355.2,314.1L1354.0,316.3L1352.9,318.5L1351.8,320.8L1350.7,323.0L1349.6,325.3L1348.5,327.6L1347.4,329.8L1346.4,332.1L1345.4,334.4L1344.4,336.7L1343.4,339.0L1342.4,341.3L1341.5,343.6L1340.6,346.0L1339.6,348.3L1338.7,350.6L1337.8,353.0L1336.9,355.3L1336.0,357.6L1335.1,360.0L1334.1,362.3L1333.2,364.6L1332.3,366.9L1331.4,369.3L1330.4,371.6L1329.5,373.9L1328.5,376.2L1327.5,378.5L1326.5,380.8L1325.5,383.1L1324.4,385.3L1323.3,387.6L1322.2,389.9L1321.1,392.1L1320.0,394.3L1318.8,396.6L1317.6,398.8L1316.4,401.0L1315.2,403.2L1314.0,405.4L1312.8,407.6L1311.6,409.8L1310.4,412.0L1309.3,414.2L1308.1,416.5L1306.9,418.7L1305.8,420.9L1304.7,423.1L1303.5,425.4L1302.4,427.6L1301.3,429.8L1300.1,432.1L1299.0,434.3L1297.9,436.5L1296.8,438.8L1295.7,441.0L1294.6,443.3L1293.5,445.5L1292.4,447.7L1291.3,450.0L1290.2,452.2L1289.0,454.4L1287.9,456.7L1286.8,458.9L1285.7,461.1L1284.6,463.4L1283.4,465.6L1282.3,467.8L1281.1,470.0L1280.0,472.2L1278.8,474.4L1277.7,476.7L1276.5,478.8L1275.3,481.0L1274.1,483.2L1272.9,485.4L1271.7,487.6L1270.4,489.8L1269.2,491.9L1267.9,494.1L1266.6,496.2L1265.4,498.4L1264.0,500.5L1262.7,502.6L1261.4,504.7L1260.0,506.9L1258.7,509.0L1257.3,511.0L1255.9,513.1L1254.4,515.2L1253.0,517.3L1251.6,519.3L1250.1,521.4L1248.6,523.4L1247.2,525.4L1245.7,527.4L1244.1,529.5L1242.6,531.4L1241.1,533.4L1239.5,535.4L1237.9,537.4L1236.4,539.3L1234.8,541.3L1233.2,543.2L1231.6,545.1L1229.9,547.0L1228.3,548.9L1226.6,550.8L1225.0,552.7L1223.3,554.5L1221.6,556.4L1219.9,558.2L1218.2,560.1L1216.5,561.9L1214.8,563.7L1213.0,565.5L1211.3,567.2L1209.5,569.0L1207.8,570.7L1206.0,572.5L1204.2,574.2L1202.4,575.9L1200.5,577.6L1198.7,579.2L1196.9,580.9L1195.0,582.6L1193.2,584.2L1191.3,585.9L1189.4,587.5L1187.6,589.2L1185.7,590.8L1183.8,592.5L1182.0,594.1L1180.1,595.7L1178.2,597.4L1176.3,599.1L1174.5,600.7L1172.6,602.4L1170.7,604.0L1168.8,605.7L1167.0,607.4L1165.1,609.1L1163.2,610.7L1161.4,612.4L1159.5,614.1L1157.6,615.8L1155.8,617.5L1153.9,619.2L1152.1,620.9L1150.2,622.6L1148.4,624.3L1146.5,626.0L1144.7,627.7L1142.8,629.4L1141.0,631.1L1139.2,632.9L1137.3,634.6L1135.5,636.3L1133.7,638.1L1131.9,639.8L1130.1,641.5L1128.3,643.3L1126.5,645.0L1124.7,646.8L1122.9,648.5L1121.1,650.2L1119.2,652.0L1117.4,653.7L1115.6,655.5L1113.8,657.2L1112.0,658.9L1110.2,660.7L1108.4,662.4L1106.6,664.1L1104.8,665.9L1103.0,667.6L1101.2,669.3L1099.3,671.0L1097.5,672.7L1095.7,674.4L1093.9,676.1L1092.0,677.8L1090.2,679.5L1088.3,681.2L1086.5,682.9L1084.6,684.5L1082.8,686.2L1080.9,687.8L1079.0,689.5L1077.1,691.1L1075.2,692.7L1073.3,694.3L1071.4,695.9L1069.5,697.5L1067.6,699.1L1065.6,700.7L1063.7,702.3L1061.7,703.8L1059.8,705.3L1057.8,706.9L1055.8,708.4L1053.8,709.9L1051.8,711.4L1049.8,712.8L1047.8,714.3L1045.7,715.7L1043.7,717.2L1041.6,718.6L1039.5,720.0L1037.4,721.3L1035.3,722.7L1033.1,724.0L1031.0,725.4L1028.8,726.7L1026.7,728.0L1024.5,729.3L1022.3,730.5L1020.1,731.8L1017.9,733.0L1015.6,734.2L1013.4,735.4L1011.1,736.5L1008.9,737.7L1006.6,738.8L1004.3,739.9L1002.0,741.0L999.7,742.0L997.4,743.0L995.1,744.1L992.7,745.1L990.4,746.0L988.0,747.0L985.7,747.9L983.3,748.8L980.9,749.7L978.6,750.5L976.2,751.4L973.8,752.2L971.4,753.0L969.0,753.7L966.6,754.4L964.2,755.1L961.8,755.8L959.3,756.5L956.9,757.1L954.5,757.7L952.1,758.3L949.6,758.8L947.2,759.4L944.8,759.8L942.3,760.3L939.9,760.8L937.4,761.2L935.0,761.6L932.5,761.9L930.1,762.3L927.6,762.6L925.2,762.9L922.7,763.1L920.2,763.4L917.8,763.6L915.3,763.8L912.9,764.0L910.4,764.1L907.9,764.2L905.4,764.3L903.0,764.4L900.5,764.5L898.0,764.5L895.6,764.5L893.1,764.5L890.6,764.5L888.1,764.4L885.7,764.3L883.2,764.2L880.7,764.1L878.2,764.0L875.8,763.8L873.3,763.6L870.8,763.4L868.3,763.2L865.9,763.0L863.4,762.7L860.9,762.4L858.4,762.1L855.9,761.8L853.5,761.5L851.0,761.1L848.5,760.8L846.1,760.4L843.6,760.0L841.1,759.5L838.7,759.1L836.2,758.6L833.7,758.1L831.3,757.7L828.8,757.1L826.3,756.6L823.9,756.1L821.4,755.5L819.0,754.9L816.5,754.3L814.1,753.7L811.6,753.1L809.2,752.5L806.7,751.8L804.3,751.2L801.9,750.5L799.4,749.8L797.0,749.1L794.6,748.4L792.1,747.6L789.7,746.9L787.3,746.1L784.9,745.3L782.5,744.6L780.1,743.8L777.7,742.9L775.3,742.1L772.9,741.3L770.5,740.4L768.1,739.6L765.7,738.7L763.3,737.8L760.9,736.9L758.6,736.0L756.2,735.1L753.8,734.2L751.5,733.3L749.1,732.3L746.8,731.4L744.4,730.4L742.1,729.5L739.7,728.5L737.4,727.5L735.1,726.5L732.8,725.5L730.5,724.5L728.1,723.5L725.8,722.5L723.5,721.4L721.2,720.4L718.9,719.3L716.6,718.3L714.3,717.2L712.1,716.2L709.8,715.1L707.5,714.0L705.2,713.0L702.9,711.9L700.7,710.8L698.4,709.7L696.1,708.6L693.9,707.5L691.6,706.4L689.3,705.3L687.1,704.2L684.8,703.1L682.6,702.0L680.3,700.9L678.1,699.8L675.8,698.6L673.6,697.5L671.3,696.4L669.1,695.3L666.8,694.2L664.6,693.1L662.3,691.9L660.1,690.8L657.8,689.7L655.6,688.6L653.4,687.5L651.1,686.4L648.9,685.2L646.6,684.1L644.4,683.0L642.1,681.9L639.9,680.8L637.7,679.7L635.4,678.6L633.2,677.5L630.9,676.4L628.7,675.4L626.4,674.3L624.2,673.2L621.9,672.1L619.7,671.1L617.4,670.0L615.2,668.9L612.9,667.9L610.6,666.9L608.4,665.8L606.1,664.8L603.8,663.8L601.6,662.8L599.3,661.7L597.0,660.7L594.8,659.8L592.5,658.8L590.2,657.8L587.9,656.8L585.6,655.9L583.3,654.9L581.0,654.0L578.7,653.1L576.4,652.1L574.1,651.2L571.8,650.3L569.5,649.4L567.2,648.6L564.8,647.7L562.5,646.9L560.2,646.0L557.8,645.2L555.5,644.4L553.1,643.6L550.8,642.8L548.4,642.0L546.1,641.2L543.7,640.5L541.3,639.8L538.9,639.0L536.5,638.3L534.1,637.6L531.7,637.0L529.3,636.3L526.9,635.7L524.5,635.0L522.1,634.4L519.7,633.8L517.2,633.2L514.8,632.7L512.3,632.1L509.9,631.6L507.4,631.1L505.0,630.5L502.5,630.0L500.0,629.6L497.5,629.1L495.1,628.6L492.6,628.2L490.1,627.8L487.6,627.3L485.1,626.9L482.6,626.5L480.1,626.1L477.6,625.8L475.1,625.4L472.6,625.0L470.0,624.7L467.5,624.4L465.0,624.0L462.5,623.7L460.0,623.4L457.4,623.1L454.9,622.8L452.4,622.6L449.9,622.3L447.3,622.0L444.8,621.8L442.3,621.5L439.7,621.3L437.2,621.1L434.7,620.8L432.1,620.6L429.6,620.4L427.1,620.2L424.5,620.0L422.0,619.8L419.5,619.6L417.0,619.4L414.4,619.2L411.9,619.0L409.4,618.9L406.9,618.7L404.3,618.5L401.8,618.4L399.3,618.2L396.8,618.1L394.3,617.9L391.8,617.7L389.3,617.6L386.8,617.5L384.3,617.3L381.8,617.2L379.3,617.0L376.8,616.9L374.3,616.7L371.8,616.6L369.3,616.5L366.9,616.3L364.4,616.2L361.9,616.0L359.4,615.9L357.0,615.8L354.5,615.7L352.0,615.5L349.6,615.4L347.1,615.3L344.6,615.2L342.2,615.1L339.7,615.0L337.2,614.9L334.8,614.8L332.3,614.7L329.8,614.6L327.4,614.5L324.9,614.4L322.4,614.3L319.9,614.3L317.4,614.2L314.9,614.1L312.5,614.1L310.0,614.0L307.5,614.0L305.0,613.9L302.4,613.9L299.9,613.9L297.4,613.9L294.9,613.9L292.3,613.9L289.8,613.9L287.3,613.9L284.7,613.9L282.1,613.9L279.6,614.0L277.0,614.0"/>
</g>
<g clip-path="url(#cd)" fill="none" stroke-width="6.3" stroke-linejoin="miter" stroke-miterlimit="3" stroke-linecap="butt">
<path stroke="#000" d="M280.5,2158.7L280.6,2156.2L280.7,2153.7L280.7,2151.1L280.8,2148.6L280.9,2146.1L281.0,2143.6L281.1,2141.1L281.2,2138.6L281.3,2136.1L281.4,2133.5L281.4,2131.0L281.5,2128.5L281.6,2126.0L281.7,2123.5L281.8,2121.0L281.9,2118.5L282.0,2115.9L282.1,2113.4L282.2,2110.9L282.3,2108.4L282.5,2105.9L282.6,2103.4L282.7,2100.9L282.8,2098.4L282.9,2095.9L283.0,2093.3L283.1,2090.8L283.2,2088.3L283.4,2085.8L283.5,2083.3L283.6,2080.8L283.7,2078.3L283.8,2075.8L284.0,2073.3L284.1,2070.8L284.2,2068.3L284.4,2065.8L284.5,2063.3L284.6,2060.8L284.8,2058.2L284.9,2055.7L285.0,2053.2L285.2,2050.7L285.3,2048.2L285.5,2045.7L285.6,2043.2L285.8,2040.7L285.9,2038.2L286.1,2035.7L286.2,2033.2L286.4,2030.7L286.5,2028.2L286.7,2025.7L286.8,2023.2L287.0,2020.7L287.1,2018.2L287.3,2015.7L287.5,2013.2L287.6,2010.7L287.8,2008.2L288.0,2005.7L288.1,2003.2L288.3,2000.7L288.5,1998.2L288.7,1995.7L288.8,1993.2L289.0,1990.7L289.2,1988.2L289.4,1985.7L289.6,1983.2L289.8,1980.7L289.9,1978.2L290.1,1975.7L290.3,1973.2L290.5,1970.7L290.7,1968.2L290.9,1965.7L291.1,1963.2L291.3,1960.7L291.5,1958.2L291.7,1955.7L291.9,1953.2L292.1,1950.7L292.3,1948.2L292.5,1945.7L292.8,1943.2L293.0,1940.7L293.2,1938.2L293.4,1935.7L293.6,1933.2L293.9,1930.7L294.1,1928.2L294.3,1925.7L294.5,1923.2L294.8,1920.7L295.0,1918.2L295.2,1915.7L295.5,1913.2L295.7,1910.7L295.9,1908.2L296.2,1905.8L296.4,1903.3L296.7,1900.8L296.9,1898.3L297.2,1895.8L297.4,1893.3L297.7,1890.8L297.9,1888.3L298.2,1885.8L298.4,1883.3L298.7,1880.8L298.9,1878.3L299.2,1875.8L299.5,1873.3L299.7,1870.8L300.0,1868.3L300.3,1865.8L300.6,1863.3L300.8,1860.8L301.1,1858.3L301.4,1855.8L301.7,1853.3L302.0,1850.8L302.2,1848.3L302.5,1845.9L302.8,1843.4L303.1,1840.9L303.4,1838.4L303.7,1835.9L304.0,1833.4L304.3,1830.9L304.6,1828.4L304.9,1825.9L305.2,1823.4L305.5,1820.9L305.8,1818.4L306.1,1815.9L306.5,1813.4L306.8,1810.9L307.1,1808.4L307.4,1805.9L307.7,1803.4L308.1,1800.9L308.4,1798.4L308.7,1795.9L309.1,1793.4L309.4,1790.9L309.7,1788.4L310.1,1786.0L310.4,1783.5L310.8,1781.0L311.1,1778.5L311.5,1776.0L311.8,1773.5L312.2,1771.0L312.5,1768.5L312.9,1766.0L313.3,1763.5L313.6,1761.0L314.0,1758.5L314.4,1756.0L314.8,1753.5L315.2,1751.0L315.5,1748.6L315.9,1746.1L316.3,1743.6L316.7,1741.1L317.1,1738.6L317.5,1736.1L317.9,1733.6L318.4,1731.2L318.8,1728.7L319.2,1726.2L319.6,1723.7L320.1,1721.2L320.5,1718.7L321.0,1716.3L321.4,1713.8L321.8,1711.3L322.3,1708.8L322.8,1706.4L323.2,1703.9L323.7,1701.4L324.2,1699.0L324.7,1696.5L325.2,1694.0L325.6,1691.6L326.1,1689.1L326.6,1686.6L327.2,1684.2L327.7,1681.7L328.2,1679.3L328.7,1676.8L329.2,1674.3L329.8,1671.9L330.3,1669.4L330.9,1667.0L331.4,1664.5L332.0,1662.1L332.6,1659.7L333.1,1657.2L333.7,1654.8L334.3,1652.3L334.9,1649.9L335.5,1647.5L336.1,1645.0L336.7,1642.6L337.4,1640.2L338.0,1637.7L338.6,1635.3L339.3,1632.9L339.9,1630.5L340.6,1628.1L341.2,1625.6L341.9,1623.2L342.6,1620.8L343.3,1618.4L344.0,1616.0L344.7,1613.6L345.4,1611.2L346.1,1608.8L346.8,1606.4L347.5,1604.0L348.3,1601.6L349.0,1599.2L349.8,1596.9L350.6,1594.5L351.3,1592.1L352.1,1589.7L352.9,1587.4L353.7,1585.0L354.5,1582.6L355.3,1580.3L356.2,1577.9L357.0,1575.5L357.8,1573.2L358.7,1570.8L359.5,1568.5L360.4,1566.1L361.3,1563.8L362.2,1561.4L363.1,1559.1L364.0,1556.8L364.9,1554.4L365.8,1552.1L366.7,1549.8L367.6,1547.5L368.6,1545.1L369.5,1542.8L370.5,1540.5L371.4,1538.2L372.4,1535.9L373.4,1533.6L374.4,1531.3L375.4,1529.0L376.4,1526.7L377.4,1524.4L378.4,1522.1L379.4,1519.8L380.4,1517.5L381.4,1515.2L382.5,1512.9L383.5,1510.6L384.6,1508.3L385.6,1506.1L386.7,1503.8L387.8,1501.5L388.8,1499.2L389.9,1497.0L391.0,1494.7L392.1,1492.4L393.2,1490.2L394.3,1487.9L395.4,1485.7L396.5,1483.4L397.6,1481.2L398.7,1478.9L399.8,1476.7L401.0,1474.4L402.1,1472.2L403.2,1469.9L404.4,1467.7L405.5,1465.4L406.7,1463.2L407.8,1461.0L409.0,1458.7L410.2,1456.5L411.3,1454.3L412.5,1452.0L413.7,1449.8L414.9,1447.6L416.1,1445.4L417.4,1443.2L418.6,1440.9L419.8,1438.7L421.1,1436.5L422.4,1434.3L423.6,1432.1L424.9,1429.9L426.3,1427.7L427.6,1425.5L429.0,1423.3L430.3,1421.2L431.7,1419.0L433.2,1416.9L434.6,1414.9L436.1,1412.8L437.7,1410.8L439.3,1408.9L440.9,1407.0L442.5,1405.2L444.3,1403.4L446.0,1401.7L447.8,1400.0L449.7,1398.4L451.6,1396.9L453.5,1395.4L455.5,1394.0L457.5,1392.6L459.6,1391.3L461.7,1390.1L463.8,1388.8L466.0,1387.7L468.2,1386.5L470.4,1385.4L472.7,1384.3L474.9,1383.3L477.2,1382.3L479.5,1381.3L481.8,1380.3L484.2,1379.4L486.5,1378.5L488.9,1377.6L491.2,1376.7L493.6,1375.8L496.0,1375.0L498.3,1374.1L500.7,1373.2L503.1,1372.4L505.5,1371.5L507.8,1370.7L510.2,1369.9L512.6,1369.1L515.0,1368.2L517.4,1367.4L519.8,1366.6L522.2,1365.8L524.5,1365.0L526.9,1364.2L529.3,1363.5L531.7,1362.7L534.1,1361.9L536.5,1361.2L538.9,1360.4L541.3,1359.6L543.7,1358.9L546.1,1358.2L548.5,1357.4L550.9,1356.7L553.3,1356.0L555.7,1355.2L558.1,1354.5L560.6,1353.8L563.0,1353.1L565.4,1352.4L567.8,1351.7L570.2,1351.0L572.6,1350.3L575.0,1349.6L577.5,1349.0L579.9,1348.3L582.3,1347.6L584.7,1346.9L587.1,1346.3L589.6,1345.6L592.0,1345.0L594.4,1344.3L596.8,1343.6L599.3,1343.0L601.7,1342.4L604.1,1341.7L606.5,1341.1L609.0,1340.5L611.4,1339.8L613.8,1339.2L616.3,1338.6L618.7,1338.0L621.1,1337.3L623.6,1336.7L626.0,1336.1L628.4,1335.5L630.9,1334.9L633.3,1334.3L635.7,1333.7L638.2,1333.1L640.6,1332.5L643.0,1331.9L645.5,1331.3L647.9,1330.7L650.4,1330.1L652.8,1329.5L655.2,1329.0L657.7,1328.4L660.1,1327.8L662.6,1327.2L665.0,1326.6L667.5,1326.1L669.9,1325.5L672.3,1324.9L674.8,1324.3L677.2,1323.8L679.7,1323.2L682.1,1322.6L684.6,1322.1L687.0,1321.5L689.4,1320.9L691.9,1320.3L694.3,1319.8L696.8,1319.2L699.2,1318.7L701.7,1318.1L704.1,1317.5L706.6,1317.0L709.0,1316.4L711.4,1315.8L713.9,1315.3L716.3,1314.7L718.8,1314.1L721.2,1313.6L723.7,1313.0L726.1,1312.4L728.6,1311.9L731.0,1311.3L731.6,1313.6L732.3,1316.0L733.0,1318.3L733.8,1320.7L734.6,1323.0L735.4,1325.3L736.3,1327.6L737.2,1329.9L738.2,1332.2L739.1,1334.5L740.2,1336.7L741.2,1339.0L742.3,1341.3L743.4,1343.5L744.5,1345.7L745.7,1347.9L746.9,1350.1L748.2,1352.3L749.4,1354.5L750.7,1356.6L752.0,1358.8L753.4,1360.9L754.8,1363.0L756.2,1365.1L757.6,1367.2L759.0,1369.3L760.5,1371.3L762.0,1373.3L763.5,1375.4L765.1,1377.3L766.6,1379.3L768.2,1381.3L769.8,1383.2L771.4,1385.1L773.1,1387.0L774.7,1388.9L776.4,1390.8L778.1,1392.6L779.8,1394.5L781.5,1396.3L783.3,1398.1L785.0,1399.8L786.8,1401.6L788.6,1403.3L790.4,1405.1L792.3,1406.8L794.1,1408.5L796.0,1410.1L797.9,1411.8L799.7,1413.4L801.7,1415.0L803.6,1416.6L805.5,1418.2L807.5,1419.8L809.4,1421.3L811.4,1422.9L813.4,1424.4L815.4,1425.9L817.4,1427.4L819.5,1428.8L821.5,1430.3L823.6,1431.7L825.6,1433.2L827.7,1434.6L829.8,1436.0L831.9,1437.3L834.0,1438.7L836.1,1440.0L838.3,1441.4L840.4,1442.7L842.6,1444.0L844.7,1445.2L846.9,1446.5L849.1,1447.8L851.3,1449.0L853.5,1450.2L855.7,1451.4L857.9,1452.6L860.1,1453.8L862.3,1454.9L864.6,1456.1L866.8,1457.3L869.0,1458.4L871.3,1459.5L873.5,1460.6L875.8,1461.7L878.1,1462.9L880.3,1463.9L882.6,1465.0L884.9,1466.1L887.1,1467.2L889.4,1468.3L891.7,1469.4L893.9,1470.5L896.2,1471.5L898.5,1472.6L900.8,1473.7L903.0,1474.7L905.3,1475.8L907.6,1476.9L909.9,1478.0L912.1,1479.1L914.4,1480.2L916.7,1481.3L918.9,1482.4L921.2,1483.5L923.4,1484.6L925.7,1485.7L927.9,1486.8L930.1,1488.0L932.4,1489.1L934.6,1490.3L936.8,1491.5L939.0,1492.7L941.1,1493.9L943.3,1495.1L945.5,1496.4L947.6,1497.7L949.7,1499.0L951.8,1500.3L953.9,1501.7L955.9,1503.1L957.9,1504.5L960.0,1506.0L961.9,1507.5L963.9,1509.0L965.8,1510.5L967.7,1512.1L969.6,1513.7L971.5,1515.3L973.4,1517.0L975.2,1518.7L977.0,1520.4L978.8,1522.1L980.5,1523.9L982.3,1525.7L984.0,1527.5L985.7,1529.3L987.4,1531.1L989.1,1533.0L990.8,1534.9L992.4,1536.8L994.0,1538.7L995.6,1540.6L997.2,1542.6L998.8,1544.5L1000.4,1546.5L1001.9,1548.5L1003.4,1550.5L1005.0,1552.5L1006.5,1554.5L1007.9,1556.6L1009.4,1558.6L1010.9,1560.7L1012.3,1562.8L1013.8,1564.8L1015.2,1566.9L1016.6,1569.0L1018.0,1571.1L1019.4,1573.2L1020.8,1575.3L1022.1,1577.5L1023.5,1579.6L1024.8,1581.7L1026.2,1583.9L1027.5,1586.0L1028.8,1588.2L1030.1,1590.3L1031.4,1592.5L1032.7,1594.7L1033.9,1596.9L1035.2,1599.1L1036.4,1601.2L1037.7,1603.4L1038.9,1605.6L1040.1,1607.8L1041.3,1610.1L1042.5,1612.3L1043.7,1614.5L1044.9,1616.7L1046.1,1618.9L1047.2,1621.2L1048.4,1623.4L1049.5,1625.7L1050.6,1627.9L1051.8,1630.1L1052.9,1632.4L1054.0,1634.7L1055.1,1636.9L1056.1,1639.2L1057.2,1641.4L1058.3,1643.7L1059.4,1646.0L1060.4,1648.3L1061.4,1650.5L1062.5,1652.8L1063.5,1655.1L1064.5,1657.4L1065.5,1659.7L1066.5,1662.0L1067.5,1664.3L1068.5,1666.6L1069.5,1668.9L1070.4,1671.2L1071.4,1673.5L1072.4,1675.8L1073.3,1678.1L1074.2,1680.5L1075.2,1682.8L1076.1,1685.1L1077.0,1687.4L1077.9,1689.8L1078.8,1692.1L1079.7,1694.5L1080.6,1696.8L1081.4,1699.1L1082.3,1701.5L1083.2,1703.8L1084.0,1706.2L1084.9,1708.5L1085.7,1710.9L1086.5,1713.3L1087.4,1715.6L1088.2,1718.0L1089.0,1720.4L1089.8,1722.7L1090.6,1725.1L1091.4,1727.5L1092.2,1729.9L1093.0,1732.2L1093.7,1734.6L1094.5,1737.0L1095.2,1739.4L1096.0,1741.8L1096.7,1744.2L1097.5,1746.6L1098.2,1749.0L1098.9,1751.4L1099.7,1753.8L1100.4,1756.2L1101.1,1758.6L1101.8,1761.0L1102.5,1763.4L1103.2,1765.8L1103.9,1768.2L1104.5,1770.6L1105.2,1773.1L1105.9,1775.5L1106.5,1777.9L1107.2,1780.3L1107.8,1782.8L1108.5,1785.2L1109.1,1787.6L1109.8,1790.0L1110.4,1792.5L1111.0,1794.9L1111.6,1797.3L1112.2,1799.8L1112.9,1802.2L1113.5,1804.6L1114.1,1807.1L1114.7,1809.5L1115.2,1812.0L1115.8,1814.4L1116.4,1816.9L1117.0,1819.3L1117.6,1821.8L1118.1,1824.2L1118.7,1826.7L1119.2,1829.1L1119.8,1831.6L1120.3,1834.0L1120.9,1836.5L1121.4,1838.9L1122.0,1841.4L1122.5,1843.9L1123.0,1846.3L1123.6,1848.8L1124.1,1851.2L1124.6,1853.7L1125.1,1856.2L1125.6,1858.6L1126.1,1861.1L1126.6,1863.6L1127.1,1866.0L1127.6,1868.5L1128.1,1871.0L1128.6,1873.4L1129.1,1875.9L1129.6,1878.4L1130.1,1880.8L1130.5,1883.3L1131.0,1885.8L1131.5,1888.2L1131.9,1890.7L1132.4,1893.2L1132.9,1895.7L1133.3,1898.1L1133.8,1900.6L1134.2,1903.1L1134.7,1905.6L1135.1,1908.0L1135.6,1910.5L1136.0,1913.0L1136.4,1915.5L1136.9,1917.9L1137.3,1920.4L1137.8,1922.9L1138.2,1925.4L1138.6,1927.8L1139.0,1930.3L1139.5,1932.8L1139.9,1935.3L1140.3,1937.7L1140.7,1940.2L1141.1,1942.7L1141.6,1945.2L1142.0,1947.6L1142.4,1950.1L1142.8,1952.6L1143.2,1955.1L1143.6,1957.5L1144.0,1960.0L1144.5,1962.5L1144.9,1964.9L1145.3,1967.4L1145.7,1969.9L1146.1,1972.4L1146.5,1974.8L1146.9,1977.3L1147.4,1979.8L1147.8,1982.2L1148.2,1984.7L1148.6,1987.2L1149.0,1989.7L1149.5,1992.1L1149.9,1994.6L1150.3,1997.1L1150.7,1999.5L1151.2,2002.0L1151.6,2004.5L1152.1,2006.9L1152.5,2009.4L1152.9,2011.9L1153.4,2014.3L1153.8,2016.8L1154.3,2019.2L1154.8,2021.7L1155.2,2024.2L1155.7,2026.6L1156.2,2029.1L1156.6,2031.5L1157.1,2034.0L1157.6,2036.5L1158.1,2038.9L1158.6,2041.4L1159.1,2043.8L1159.6,2046.3L1160.1,2048.7L1160.6,2051.2L1161.1,2053.6L1161.7,2056.1L1162.2,2058.5L1162.7,2061.0L1163.3,2063.4L1163.8,2065.9L1164.4,2068.3L1165.0,2070.8L1165.5,2073.2L1166.1,2075.7L1166.7,2078.1L1167.3,2080.5L1167.9,2083.0L1168.5,2085.4L1169.1,2087.9L1169.7,2090.3L1170.3,2092.7L1170.9,2095.2L1171.6,2097.6L1172.2,2100.1L1172.8,2102.5L1173.4,2104.9L1174.0,2107.4L1174.6,2109.8L1175.2,2112.2L1175.8,2114.7L1176.5,2117.1L1177.1,2119.6L1177.7,2122.0L1178.3,2124.4L1178.8,2126.9L1179.4,2129.3L1180.0,2131.8L1180.6,2134.2L1181.1,2136.7L1181.7,2139.1L1182.2,2141.5L1182.8,2144.0L1183.3,2146.4L1183.8,2148.9L1184.3,2151.3L1184.8,2153.8L1185.3,2156.2L1185.8,2158.7"/>
<path stroke="#f00" d="M280.5,2158.7L280.7,2156.2L280.8,2153.7L281.0,2151.2L281.1,2148.7L281.2,2146.2L281.4,2143.7L281.5,2141.2L281.6,2138.7L281.8,2136.2L281.9,2133.7L282.0,2131.2L282.2,2128.7L282.3,2126.2L282.4,2123.7L282.5,2121.2L282.6,2118.7L282.7,2116.2L282.8,2113.7L283.0,2111.1L283.1,2108.6L283.2,2106.1L283.3,2103.6L283.4,2101.1L283.5,2098.6L283.5,2096.1L283.6,2093.6L283.7,2091.1L283.8,2088.6L283.9,2086.1L284.0,2083.6L284.1,2081.1L284.1,2078.6L284.2,2076.0L284.3,2073.5L284.4,2071.0L284.5,2068.5L284.5,2066.0L284.6,2063.5L284.7,2061.0L284.7,2058.5L284.8,2056.0L284.9,2053.5L284.9,2051.0L285.0,2048.4L285.1,2045.9L285.1,2043.4L285.2,2040.9L285.2,2038.4L285.3,2035.9L285.4,2033.4L285.4,2030.9L285.5,2028.4L285.5,2025.8L285.6,2023.3L285.6,2020.8L285.7,2018.3L285.7,2015.8L285.8,2013.3L285.8,2010.8L285.9,2008.3L285.9,2005.7L286.0,2003.2L286.0,2000.7L286.1,1998.2L286.1,1995.7L286.2,1993.2L286.2,1990.7L286.3,1988.2L286.3,1985.7L286.4,1983.1L286.4,1980.6L286.5,1978.1L286.5,1975.6L286.5,1973.1L286.6,1970.6L286.6,1968.1L286.7,1965.5L286.7,1963.0L286.8,1960.5L286.8,1958.0L286.9,1955.5L286.9,1953.0L287.0,1950.5L287.0,1948.0L287.1,1945.4L287.1,1942.9L287.2,1940.4L287.2,1937.9L287.3,1935.4L287.3,1932.9L287.4,1930.4L287.4,1927.9L287.5,1925.3L287.5,1922.8L287.6,1920.3L287.7,1917.8L287.7,1915.3L287.8,1912.8L287.8,1910.3L287.9,1907.8L288.0,1905.3L288.0,1902.7L288.1,1900.2L288.2,1897.7L288.2,1895.2L288.3,1892.7L288.4,1890.2L288.4,1887.7L288.5,1885.2L288.6,1882.7L288.7,1880.1L288.7,1877.6L288.8,1875.1L288.9,1872.6L289.0,1870.1L289.1,1867.6L289.2,1865.1L289.2,1862.6L289.3,1860.1L289.4,1857.6L289.5,1855.0L289.6,1852.5L289.7,1850.0L289.8,1847.5L289.9,1845.0L290.0,1842.5L290.1,1840.0L290.3,1837.5L290.4,1835.0L290.5,1832.5L290.6,1830.0L290.7,1827.5L290.8,1825.0L291.0,1822.5L291.1,1819.9L291.2,1817.4L291.4,1814.9L291.5,1812.4L291.6,1809.9L291.8,1807.4L291.9,1804.9L292.1,1802.4L292.2,1799.9L292.4,1797.4L292.5,1794.9L292.7,1792.4L292.8,1789.9L293.0,1787.4L293.2,1784.9L293.3,1782.4L293.5,1779.9L293.7,1777.4L293.9,1774.9L294.0,1772.4L294.2,1769.9L294.4,1767.4L294.6,1764.9L294.8,1762.4L295.0,1759.9L295.2,1757.4L295.4,1754.9L295.6,1752.4L295.8,1749.9L296.0,1747.4L296.2,1744.9L296.4,1742.4L296.7,1739.9L296.9,1737.4L297.1,1734.9L297.3,1732.4L297.6,1729.9L297.8,1727.4L298.0,1724.9L298.3,1722.4L298.5,1719.9L298.8,1717.4L299.0,1714.9L299.3,1712.4L299.5,1710.0L299.8,1707.5L300.0,1705.0L300.3,1702.5L300.5,1700.0L300.8,1697.5L301.1,1695.0L301.4,1692.5L301.6,1690.0L301.9,1687.5L302.2,1685.0L302.5,1682.5L302.8,1680.0L303.0,1677.6L303.3,1675.1L303.6,1672.6L303.9,1670.1L304.2,1667.6L304.5,1665.1L304.8,1662.6L305.1,1660.1L305.5,1657.6L305.8,1655.2L306.1,1652.7L306.4,1650.2L306.7,1647.7L307.1,1645.2L307.4,1642.7L307.7,1640.2L308.1,1637.8L308.4,1635.3L308.7,1632.8L309.1,1630.3L309.4,1627.8L309.8,1625.3L310.1,1622.8L310.5,1620.4L310.8,1617.9L311.2,1615.4L311.6,1612.9L311.9,1610.4L312.3,1607.9L312.7,1605.5L313.0,1603.0L313.4,1600.5L313.8,1598.0L314.2,1595.5L314.5,1593.1L314.9,1590.6L315.3,1588.1L315.7,1585.6L316.1,1583.1L316.5,1580.7L316.9,1578.2L317.3,1575.7L317.7,1573.2L318.1,1570.8L318.5,1568.3L319.0,1565.8L319.4,1563.3L319.8,1560.8L320.2,1558.4L320.6,1555.9L321.1,1553.4L321.5,1550.9L321.9,1548.5L322.4,1546.0L322.8,1543.5L323.3,1541.0L323.7,1538.6L324.2,1536.1L324.6,1533.6L325.1,1531.2L325.5,1528.7L326.0,1526.2L326.4,1523.7L326.9,1521.3L327.4,1518.8L327.8,1516.3L328.3,1513.8L328.8,1511.4L329.3,1508.9L329.7,1506.4L330.2,1504.0L330.7,1501.5L331.2,1499.0L331.7,1496.6L332.2,1494.1L332.7,1491.6L333.2,1489.2L333.7,1486.7L334.2,1484.2L334.7,1481.8L335.2,1479.3L335.7,1476.8L336.3,1474.4L336.8,1471.9L337.3,1469.4L337.9,1467.0L338.4,1464.5L338.9,1462.0L339.5,1459.6L340.1,1457.1L340.6,1454.7L341.2,1452.2L341.8,1449.8L342.4,1447.3L343.0,1444.8L343.6,1442.4L344.2,1439.9L344.8,1437.5L345.4,1435.0L346.0,1432.6L346.7,1430.1L347.3,1427.7L348.0,1425.2L348.7,1422.8L349.3,1420.4L350.0,1417.9L350.8,1415.5L351.5,1413.1L352.3,1410.7L353.1,1408.4L354.0,1406.0L354.9,1403.7L355.8,1401.5L356.8,1399.2L357.9,1397.0L359.0,1394.9L360.2,1392.7L361.4,1390.7L362.7,1388.6L364.1,1386.7L365.6,1384.7L367.1,1382.9L368.6,1381.0L370.3,1379.2L372.0,1377.5L373.7,1375.8L375.5,1374.1L377.3,1372.5L379.2,1370.9L381.1,1369.3L383.1,1367.8L385.1,1366.3L387.1,1364.8L389.2,1363.4L391.3,1362.0L393.4,1360.6L395.5,1359.3L397.7,1357.9L399.8,1356.6L402.0,1355.3L404.2,1354.0L406.4,1352.8L408.6,1351.5L410.9,1350.3L413.1,1349.0L415.3,1347.8L417.6,1346.6L419.8,1345.4L422.1,1344.2L424.3,1343.0L426.6,1341.8L428.8,1340.6L431.0,1339.4L433.3,1338.1L435.5,1336.9L437.7,1335.7L439.9,1334.4L442.1,1333.1L444.3,1331.9L446.4,1330.6L448.6,1329.3L450.7,1327.9L452.8,1326.6L454.9,1325.2L457.0,1323.8L459.0,1322.3L461.0,1320.8L463.0,1319.3L465.0,1317.8L466.9,1316.2L468.8,1314.6L470.7,1313.0L472.5,1311.3L472.9,1313.8L473.4,1316.2L473.8,1318.7L474.2,1321.1L474.7,1323.6L475.2,1326.0L475.7,1328.5L476.2,1330.9L476.7,1333.4L477.2,1335.8L477.7,1338.3L478.3,1340.7L478.8,1343.2L479.4,1345.6L480.0,1348.1L480.6,1350.5L481.2,1353.0L481.8,1355.4L482.4,1357.8L483.1,1360.3L483.7,1362.7L484.4,1365.1L485.1,1367.5L485.7,1370.0L486.4,1372.4L487.2,1374.8L487.9,1377.2L488.6,1379.6L489.4,1382.0L490.2,1384.4L491.0,1386.8L491.7,1389.2L492.6,1391.6L493.4,1394.0L494.2,1396.3L495.1,1398.7L496.0,1401.0L496.9,1403.4L497.8,1405.7L498.7,1408.1L499.6,1410.4L500.6,1412.7L501.6,1415.0L502.6,1417.3L503.6,1419.6L504.7,1421.9L505.7,1424.1L506.8,1426.4L507.9,1428.6L509.0,1430.9L510.2,1433.1L511.4,1435.3L512.6,1437.5L513.8,1439.7L515.0,1441.8L516.3,1444.0L517.6,1446.1L518.9,1448.2L520.3,1450.3L521.6,1452.4L523.0,1454.5L524.4,1456.6L525.9,1458.6L527.4,1460.6L528.9,1462.6L530.4,1464.6L531.9,1466.6L533.4,1468.6L535.0,1470.6L536.5,1472.6L538.1,1474.6L539.6,1476.5L541.2,1478.5L542.8,1480.5L544.3,1482.5L545.9,1484.4L547.4,1486.4L548.9,1488.4L550.4,1490.4L551.9,1492.4L553.4,1494.4L554.8,1496.5L556.3,1498.5L557.7,1500.6L559.0,1502.6L560.4,1504.7L561.7,1506.8L563.0,1509.0L564.2,1511.1L565.4,1513.3L566.6,1515.4L567.8,1517.6L568.9,1519.8L570.0,1522.1L571.1,1524.3L572.2,1526.5L573.2,1528.8L574.2,1531.0L575.3,1533.3L576.3,1535.6L577.3,1537.9L578.2,1540.2L579.2,1542.5L580.1,1544.8L581.1,1547.1L582.0,1549.4L582.9,1551.7L583.8,1554.1L584.7,1556.4L585.5,1558.8L586.4,1561.1L587.2,1563.5L588.1,1565.8L588.9,1568.2L589.7,1570.6L590.5,1573.0L591.3,1575.4L592.1,1577.7L592.8,1580.1L593.6,1582.5L594.3,1584.9L595.1,1587.3L595.8,1589.8L596.5,1592.2L597.2,1594.6L597.9,1597.0L598.6,1599.4L599.3,1601.9L600.0,1604.3L600.6,1606.7L601.3,1609.2L602.0,1611.6L602.6,1614.0L603.3,1616.5L603.9,1618.9L604.5,1621.4L605.1,1623.8L605.7,1626.2L606.4,1628.7L607.0,1631.1L607.6,1633.6L608.2,1636.0L608.7,1638.5L609.3,1640.9L609.9,1643.4L610.5,1645.8L611.0,1648.3L611.6,1650.7L612.2,1653.2L612.7,1655.6L613.3,1658.1L613.8,1660.6L614.3,1663.0L614.9,1665.5L615.4,1667.9L615.9,1670.4L616.4,1672.8L616.9,1675.3L617.5,1677.8L618.0,1680.2L618.5,1682.7L618.9,1685.1L619.4,1687.6L619.9,1690.1L620.4,1692.5L620.9,1695.0L621.3,1697.5L621.8,1699.9L622.3,1702.4L622.7,1704.9L623.2,1707.3L623.6,1709.8L624.1,1712.3L624.5,1714.7L625.0,1717.2L625.4,1719.7L625.8,1722.2L626.2,1724.6L626.7,1727.1L627.1,1729.6L627.5,1732.0L627.9,1734.5L628.3,1737.0L628.7,1739.5L629.1,1741.9L629.5,1744.4L629.9,1746.9L630.3,1749.4L630.6,1751.8L631.0,1754.3L631.4,1756.8L631.8,1759.3L632.1,1761.8L632.5,1764.2L632.8,1766.7L633.2,1769.2L633.6,1771.7L633.9,1774.2L634.3,1776.6L634.6,1779.1L634.9,1781.6L635.3,1784.1L635.6,1786.6L635.9,1789.1L636.3,1791.5L636.6,1794.0L636.9,1796.5L637.2,1799.0L637.5,1801.5L637.9,1804.0L638.2,1806.5L638.5,1808.9L638.8,1811.4L639.1,1813.9L639.4,1816.4L639.7,1818.9L640.0,1821.4L640.3,1823.9L640.5,1826.4L640.8,1828.9L641.1,1831.3L641.4,1833.8L641.7,1836.3L641.9,1838.8L642.2,1841.3L642.5,1843.8L642.8,1846.3L643.0,1848.8L643.3,1851.3L643.6,1853.8L643.8,1856.3L644.1,1858.8L644.3,1861.3L644.6,1863.8L644.8,1866.2L645.1,1868.7L645.3,1871.2L645.6,1873.7L645.8,1876.2L646.1,1878.7L646.3,1881.2L646.5,1883.7L646.8,1886.2L647.0,1888.7L647.2,1891.2L647.5,1893.7L647.7,1896.2L647.9,1898.7L648.2,1901.2L648.4,1903.7L648.6,1906.2L648.8,1908.7L649.1,1911.2L649.3,1913.7L649.5,1916.2L649.7,1918.7L649.9,1921.2L650.2,1923.7L650.4,1926.2L650.6,1928.7L650.8,1931.2L651.0,1933.7L651.2,1936.2L651.4,1938.7L651.6,1941.2L651.8,1943.7L652.1,1946.2L652.3,1948.7L652.5,1951.2L652.7,1953.7L652.9,1956.2L653.1,1958.7L653.3,1961.2L653.5,1963.7L653.7,1966.2L653.9,1968.7L654.1,1971.2L654.3,1973.7L654.5,1976.2L654.7,1978.7L654.9,1981.2L655.1,1983.7L655.3,1986.2L655.5,1988.7L655.7,1991.2L655.9,1993.7L656.1,1996.2L656.3,1998.7L656.5,2001.2L656.7,2003.7L656.9,2006.2L657.1,2008.7L657.3,2011.3L657.5,2013.8L657.7,2016.3L657.9,2018.8L658.1,2021.3L658.3,2023.8L658.5,2026.3L658.7,2028.8L658.9,2031.3L659.1,2033.8L659.3,2036.3L659.5,2038.8L659.7,2041.3L659.9,2043.8L660.1,2046.3L660.3,2048.8L660.5,2051.3L660.7,2053.8L660.9,2056.3L661.1,2058.8L661.3,2061.3L661.5,2063.8L661.7,2066.3L661.9,2068.8L662.2,2071.3L662.4,2073.8L662.6,2076.3L662.8,2078.8L663.0,2081.3L663.2,2083.8L663.5,2086.3L663.7,2088.8L663.9,2091.3L664.1,2093.8L664.3,2096.3L664.6,2098.8L664.8,2101.3L665.0,2103.8L665.3,2106.3L665.5,2108.8L665.7,2111.3L666.0,2113.8L666.2,2116.3L666.4,2118.8L666.7,2121.3L666.9,2123.8L667.2,2126.3L667.4,2128.8L667.6,2131.3L667.9,2133.8L668.1,2136.3L668.4,2138.7L668.7,2141.2L668.9,2143.7L669.2,2146.2L669.4,2148.7L669.7,2151.2L670.0,2153.7L670.2,2156.2L670.5,2158.7"/>
<path stroke="#0f0" d="M280.5,2158.7L280.6,2156.2L280.6,2153.7L280.7,2151.2L280.8,2148.7L280.8,2146.1L280.9,2143.6L281.0,2141.1L281.0,2138.6L281.1,2136.1L281.1,2133.6L281.2,2131.1L281.3,2128.6L281.3,2126.1L281.4,2123.5L281.4,2121.0L281.5,2118.5L281.5,2116.0L281.6,2113.5L281.6,2111.0L281.7,2108.5L281.8,2106.0L281.8,2103.5L281.9,2100.9L281.9,2098.4L282.0,2095.9L282.0,2093.4L282.1,2090.9L282.1,2088.4L282.2,2085.9L282.2,2083.4L282.3,2080.9L282.3,2078.4L282.3,2075.8L282.4,2073.3L282.4,2070.8L282.5,2068.3L282.5,2065.8L282.6,2063.3L282.6,2060.8L282.7,2058.3L282.7,2055.8L282.7,2053.3L282.8,2050.7L282.8,2048.2L282.9,2045.7L282.9,2043.2L283.0,2040.7L283.0,2038.2L283.0,2035.7L283.1,2033.2L283.1,2030.7L283.2,2028.2L283.2,2025.7L283.2,2023.1L283.3,2020.6L283.3,2018.1L283.4,2015.6L283.4,2013.1L283.4,2010.6L283.5,2008.1L283.5,2005.6L283.5,2003.1L283.6,2000.6L283.6,1998.1L283.7,1995.6L283.7,1993.0L283.7,1990.5L283.8,1988.0L283.8,1985.5L283.8,1983.0L283.9,1980.5L283.9,1978.0L284.0,1975.5L284.0,1973.0L284.0,1970.5L284.1,1968.0L284.1,1965.5L284.1,1962.9L284.2,1960.4L284.2,1957.9L284.3,1955.4L284.3,1952.9L284.3,1950.4L284.4,1947.9L284.4,1945.4L284.4,1942.9L284.5,1940.4L284.5,1937.9L284.6,1935.4L284.6,1932.9L284.6,1930.3L284.7,1927.8L284.7,1925.3L284.8,1922.8L284.8,1920.3L284.8,1917.8L284.9,1915.3L284.9,1912.8L285.0,1910.3L285.0,1907.8L285.0,1905.3L285.1,1902.8L285.1,1900.3L285.2,1897.8L285.2,1895.2L285.3,1892.7L285.3,1890.2L285.3,1887.7L285.4,1885.2L285.4,1882.7L285.5,1880.2L285.5,1877.7L285.6,1875.2L285.6,1872.7L285.7,1870.2L285.7,1867.7L285.8,1865.2L285.8,1862.7L285.9,1860.2L285.9,1857.6L286.0,1855.1L286.0,1852.6L286.1,1850.1L286.1,1847.6L286.2,1845.1L286.2,1842.6L286.3,1840.1L286.3,1837.6L286.4,1835.1L286.4,1832.6L286.5,1830.1L286.5,1827.6L286.6,1825.1L286.7,1822.6L286.7,1820.0L286.8,1817.5L286.8,1815.0L286.9,1812.5L287.0,1810.0L287.0,1807.5L287.1,1805.0L287.2,1802.5L287.2,1800.0L287.3,1797.5L287.4,1795.0L287.4,1792.5L287.5,1790.0L287.6,1787.5L287.6,1785.0L287.7,1782.5L287.8,1779.9L287.8,1777.4L287.9,1774.9L288.0,1772.4L288.1,1769.9L288.1,1767.4L288.2,1764.9L288.3,1762.4L288.4,1759.9L288.5,1757.4L288.5,1754.9L288.6,1752.4L288.7,1749.9L288.8,1747.4L288.9,1744.9L289.0,1742.4L289.0,1739.9L289.1,1737.3L289.2,1734.8L289.3,1732.3L289.4,1729.8L289.5,1727.3L289.6,1724.8L289.7,1722.3L289.8,1719.8L289.9,1717.3L290.0,1714.8L290.1,1712.3L290.2,1709.8L290.3,1707.3L290.4,1704.8L290.5,1702.3L290.6,1699.8L290.7,1697.3L290.8,1694.8L290.9,1692.2L291.0,1689.7L291.1,1687.2L291.3,1684.7L291.4,1682.2L291.5,1679.7L291.6,1677.2L291.7,1674.7L291.8,1672.2L292.0,1669.7L292.1,1667.2L292.2,1664.7L292.3,1662.2L292.5,1659.7L292.6,1657.2L292.7,1654.7L292.9,1652.2L293.0,1649.7L293.1,1647.1L293.3,1644.6L293.4,1642.1L293.5,1639.6L293.7,1637.1L293.8,1634.6L294.0,1632.1L294.1,1629.6L294.3,1627.1L294.4,1624.6L294.6,1622.1L294.7,1619.6L294.9,1617.1L295.0,1614.6L295.2,1612.1L295.3,1609.6L295.5,1607.1L295.7,1604.5L295.8,1602.0L296.0,1599.5L296.2,1597.0L296.3,1594.5L296.5,1592.0L296.7,1589.5L296.8,1587.0L297.0,1584.5L297.2,1582.0L297.4,1579.5L297.6,1577.0L297.7,1574.5L297.9,1572.0L298.1,1569.5L298.3,1567.0L298.5,1564.5L298.7,1561.9L298.9,1559.4L299.1,1556.9L299.3,1554.4L299.5,1551.9L299.7,1549.4L299.9,1546.9L300.1,1544.4L300.3,1541.9L300.5,1539.4L300.7,1536.9L300.9,1534.4L301.1,1531.9L301.4,1529.4L301.6,1526.9L301.8,1524.4L302.0,1521.9L302.2,1519.3L302.5,1516.8L302.7,1514.3L302.9,1511.8L303.2,1509.3L303.4,1506.8L303.7,1504.3L303.9,1501.8L304.2,1499.3L304.4,1496.8L304.7,1494.3L304.9,1491.8L305.2,1489.3L305.5,1486.8L305.8,1484.3L306.0,1481.8L306.3,1479.3L306.6,1476.8L306.9,1474.3L307.3,1471.8L307.6,1469.3L307.9,1466.8L308.2,1464.3L308.6,1461.9L308.9,1459.4L309.3,1456.9L309.6,1454.4L310.0,1451.9L310.4,1449.4L310.8,1447.0L311.2,1444.5L311.6,1442.0L312.0,1439.6L312.4,1437.1L312.8,1434.6L313.3,1432.2L313.7,1429.7L314.2,1427.2L314.7,1424.8L315.2,1422.3L315.7,1419.9L316.2,1417.4L316.7,1415.0L317.3,1412.6L317.8,1410.1L318.4,1407.7L318.9,1405.2L319.5,1402.8L320.1,1400.4L320.7,1398.0L321.4,1395.6L322.0,1393.1L322.7,1390.7L323.3,1388.3L324.0,1385.9L324.7,1383.5L325.4,1381.1L326.2,1378.7L326.9,1376.3L327.7,1374.0L328.5,1371.6L329.3,1369.3L330.2,1366.9L331.0,1364.6L331.9,1362.3L332.9,1360.0L333.8,1357.7L334.8,1355.4L335.8,1353.1L336.9,1350.9L338.0,1348.7L339.1,1346.5L340.3,1344.3L341.5,1342.1L342.8,1340.0L344.1,1337.9L345.4,1335.8L346.8,1333.7L348.2,1331.7L349.7,1329.7L351.2,1327.7L352.8,1325.7L354.5,1323.8L356.1,1321.9L357.9,1320.1L359.7,1318.2L361.6,1316.5L363.5,1314.7L365.5,1313.0L367.5,1311.3L367.5,1313.8L367.5,1316.4L367.5,1318.9L367.6,1321.4L367.6,1324.0L367.7,1326.5L367.7,1329.0L367.8,1331.5L367.9,1334.0L368.0,1336.6L368.2,1339.1L368.3,1341.6L368.5,1344.1L368.6,1346.6L368.8,1349.1L369.0,1351.6L369.2,1354.2L369.4,1356.7L369.6,1359.2L369.9,1361.7L370.1,1364.2L370.4,1366.7L370.6,1369.2L370.9,1371.6L371.2,1374.1L371.5,1376.6L371.8,1379.1L372.2,1381.6L372.5,1384.1L372.8,1386.6L373.2,1389.1L373.6,1391.5L374.0,1394.0L374.3,1396.5L374.8,1399.0L375.2,1401.4L375.6,1403.9L376.0,1406.4L376.5,1408.8L376.9,1411.3L377.4,1413.8L377.9,1416.2L378.3,1418.7L378.8,1421.2L379.3,1423.6L379.9,1426.1L380.4,1428.5L380.9,1431.0L381.4,1433.4L382.0,1435.9L382.6,1438.3L383.1,1440.8L383.7,1443.2L384.3,1445.6L384.8,1448.1L385.4,1450.5L386.0,1453.0L386.6,1455.4L387.2,1457.8L387.8,1460.3L388.5,1462.7L389.1,1465.2L389.7,1467.6L390.3,1470.0L390.9,1472.5L391.5,1474.9L392.2,1477.3L392.8,1479.8L393.4,1482.2L394.0,1484.6L394.6,1487.1L395.3,1489.5L395.9,1492.0L396.5,1494.4L397.1,1496.8L397.7,1499.3L398.3,1501.7L398.9,1504.2L399.5,1506.6L400.1,1509.0L400.7,1511.5L401.2,1513.9L401.8,1516.4L402.4,1518.8L402.9,1521.3L403.5,1523.7L404.0,1526.2L404.6,1528.6L405.1,1531.1L405.6,1533.5L406.2,1536.0L406.7,1538.4L407.2,1540.9L407.7,1543.4L408.2,1545.8L408.7,1548.3L409.2,1550.7L409.7,1553.2L410.2,1555.7L410.7,1558.1L411.1,1560.6L411.6,1563.1L412.1,1565.5L412.5,1568.0L413.0,1570.5L413.4,1572.9L413.9,1575.4L414.3,1577.9L414.8,1580.3L415.2,1582.8L415.6,1585.3L416.0,1587.8L416.5,1590.2L416.9,1592.7L417.3,1595.2L417.7,1597.7L418.1,1600.1L418.5,1602.6L418.9,1605.1L419.3,1607.6L419.7,1610.1L420.0,1612.5L420.4,1615.0L420.8,1617.5L421.1,1620.0L421.5,1622.5L421.9,1625.0L422.2,1627.4L422.6,1629.9L422.9,1632.4L423.3,1634.9L423.6,1637.4L423.9,1639.9L424.3,1642.4L424.6,1644.8L424.9,1647.3L425.2,1649.8L425.6,1652.3L425.9,1654.8L426.2,1657.3L426.5,1659.8L426.8,1662.3L427.1,1664.8L427.4,1667.3L427.7,1669.8L428.0,1672.3L428.3,1674.7L428.6,1677.2L428.8,1679.7L429.1,1682.2L429.4,1684.7L429.7,1687.2L429.9,1689.7L430.2,1692.2L430.5,1694.7L430.7,1697.2L431.0,1699.7L431.2,1702.2L431.5,1704.7L431.7,1707.2L432.0,1709.7L432.2,1712.2L432.5,1714.7L432.7,1717.2L432.9,1719.7L433.2,1722.2L433.4,1724.7L433.6,1727.2L433.9,1729.7L434.1,1732.2L434.3,1734.7L434.5,1737.2L434.7,1739.7L435.0,1742.2L435.2,1744.7L435.4,1747.2L435.6,1749.7L435.8,1752.2L436.0,1754.7L436.2,1757.2L436.4,1759.7L436.6,1762.2L436.8,1764.7L436.9,1767.2L437.1,1769.7L437.3,1772.2L437.5,1774.7L437.7,1777.2L437.9,1779.8L438.0,1782.3L438.2,1784.8L438.4,1787.3L438.6,1789.8L438.7,1792.3L438.9,1794.8L439.1,1797.3L439.2,1799.8L439.4,1802.3L439.5,1804.8L439.7,1807.3L439.9,1809.8L440.0,1812.3L440.2,1814.9L440.3,1817.4L440.5,1819.9L440.6,1822.4L440.8,1824.9L440.9,1827.4L441.0,1829.9L441.2,1832.4L441.3,1834.9L441.5,1837.4L441.6,1839.9L441.7,1842.5L441.9,1845.0L442.0,1847.5L442.1,1850.0L442.3,1852.5L442.4,1855.0L442.5,1857.5L442.6,1860.0L442.8,1862.5L442.9,1865.0L443.0,1867.6L443.1,1870.1L443.3,1872.6L443.4,1875.1L443.5,1877.6L443.6,1880.1L443.7,1882.6L443.8,1885.1L444.0,1887.7L444.1,1890.2L444.2,1892.7L444.3,1895.2L444.4,1897.7L444.5,1900.2L444.6,1902.7L444.7,1905.2L444.8,1907.7L444.9,1910.3L445.0,1912.8L445.2,1915.3L445.3,1917.8L445.4,1920.3L445.5,1922.8L445.6,1925.3L445.7,1927.8L445.8,1930.4L445.9,1932.9L446.0,1935.4L446.1,1937.9L446.2,1940.4L446.3,1942.9L446.4,1945.4L446.5,1948.0L446.6,1950.5L446.7,1953.0L446.8,1955.5L446.9,1958.0L447.0,1960.5L447.1,1963.0L447.2,1965.5L447.3,1968.1L447.4,1970.6L447.5,1973.1L447.6,1975.6L447.6,1978.1L447.7,1980.6L447.8,1983.1L447.9,1985.6L448.0,1988.2L448.1,1990.7L448.2,1993.2L448.3,1995.7L448.4,1998.2L448.5,2000.7L448.6,2003.2L448.7,2005.7L448.8,2008.2L448.9,2010.8L449.0,2013.3L449.1,2015.8L449.2,2018.3L449.3,2020.8L449.4,2023.3L449.5,2025.8L449.6,2028.3L449.7,2030.9L449.8,2033.4L449.9,2035.9L450.0,2038.4L450.2,2040.9L450.3,2043.4L450.4,2045.9L450.5,2048.4L450.6,2050.9L450.7,2053.4L450.8,2056.0L450.9,2058.5L451.0,2061.0L451.1,2063.5L451.2,2066.0L451.4,2068.5L451.5,2071.0L451.6,2073.5L451.7,2076.0L451.8,2078.5L451.9,2081.0L452.1,2083.6L452.2,2086.1L452.3,2088.6L452.4,2091.1L452.6,2093.6L452.7,2096.1L452.8,2098.6L452.9,2101.1L453.1,2103.6L453.2,2106.1L453.3,2108.6L453.5,2111.1L453.6,2113.6L453.7,2116.1L453.9,2118.6L454.0,2121.2L454.2,2123.7L454.3,2126.2L454.4,2128.7L454.6,2131.2L454.7,2133.7L454.9,2136.2L455.0,2138.7L455.2,2141.2L455.3,2143.7L455.5,2146.2L455.7,2148.7L455.8,2151.2L456.0,2153.7L456.1,2156.2L456.3,2158.7"/>
<path stroke="#00f" d="M280.5,2158.7L280.5,2156.2L280.6,2153.7L280.6,2151.1L280.6,2148.6L280.6,2146.1L280.7,2143.6L280.7,2141.1L280.7,2138.6L280.7,2136.0L280.7,2133.5L280.8,2131.0L280.8,2128.5L280.8,2126.0L280.8,2123.5L280.9,2120.9L280.9,2118.4L280.9,2115.9L280.9,2113.4L280.9,2110.9L281.0,2108.4L281.0,2105.9L281.0,2103.3L281.0,2100.8L281.0,2098.3L281.1,2095.8L281.1,2093.3L281.1,2090.8L281.1,2088.2L281.1,2085.7L281.2,2083.2L281.2,2080.7L281.2,2078.2L281.2,2075.7L281.2,2073.2L281.2,2070.6L281.3,2068.1L281.3,2065.6L281.3,2063.1L281.3,2060.6L281.3,2058.1L281.3,2055.5L281.4,2053.0L281.4,2050.5L281.4,2048.0L281.4,2045.5L281.4,2043.0L281.4,2040.5L281.4,2037.9L281.5,2035.4L281.5,2032.9L281.5,2030.4L281.5,2027.9L281.5,2025.4L281.5,2022.9L281.6,2020.3L281.6,2017.8L281.6,2015.3L281.6,2012.8L281.6,2010.3L281.6,2007.8L281.6,2005.3L281.7,2002.7L281.7,2000.2L281.7,1997.7L281.7,1995.2L281.7,1992.7L281.7,1990.2L281.7,1987.7L281.8,1985.2L281.8,1982.6L281.8,1980.1L281.8,1977.6L281.8,1975.1L281.8,1972.6L281.8,1970.1L281.9,1967.6L281.9,1965.0L281.9,1962.5L281.9,1960.0L281.9,1957.5L281.9,1955.0L281.9,1952.5L282.0,1950.0L282.0,1947.4L282.0,1944.9L282.0,1942.4L282.0,1939.9L282.0,1937.4L282.0,1934.9L282.1,1932.4L282.1,1929.9L282.1,1927.3L282.1,1924.8L282.1,1922.3L282.1,1919.8L282.1,1917.3L282.2,1914.8L282.2,1912.3L282.2,1909.8L282.2,1907.2L282.2,1904.7L282.2,1902.2L282.3,1899.7L282.3,1897.2L282.3,1894.7L282.3,1892.2L282.3,1889.7L282.3,1887.1L282.4,1884.6L282.4,1882.1L282.4,1879.6L282.4,1877.1L282.4,1874.6L282.5,1872.1L282.5,1869.5L282.5,1867.0L282.5,1864.5L282.5,1862.0L282.6,1859.5L282.6,1857.0L282.6,1854.5L282.6,1852.0L282.6,1849.4L282.7,1846.9L282.7,1844.4L282.7,1841.9L282.7,1839.4L282.7,1836.9L282.8,1834.4L282.8,1831.9L282.8,1829.3L282.8,1826.8L282.9,1824.3L282.9,1821.8L282.9,1819.3L282.9,1816.8L283.0,1814.3L283.0,1811.8L283.0,1809.2L283.0,1806.7L283.1,1804.2L283.1,1801.7L283.1,1799.2L283.1,1796.7L283.2,1794.2L283.2,1791.7L283.2,1789.1L283.3,1786.6L283.3,1784.1L283.3,1781.6L283.3,1779.1L283.4,1776.6L283.4,1774.1L283.4,1771.6L283.5,1769.0L283.5,1766.5L283.5,1764.0L283.6,1761.5L283.6,1759.0L283.6,1756.5L283.7,1754.0L283.7,1751.4L283.7,1748.9L283.8,1746.4L283.8,1743.9L283.8,1741.4L283.9,1738.9L283.9,1736.4L283.9,1733.9L284.0,1731.3L284.0,1728.8L284.1,1726.3L284.1,1723.8L284.1,1721.3L284.2,1718.8L284.2,1716.3L284.3,1713.7L284.3,1711.2L284.4,1708.7L284.4,1706.2L284.4,1703.7L284.5,1701.2L284.5,1698.7L284.6,1696.2L284.6,1693.6L284.7,1691.1L284.7,1688.6L284.8,1686.1L284.8,1683.6L284.9,1681.1L284.9,1678.6L285.0,1676.0L285.0,1673.5L285.1,1671.0L285.1,1668.5L285.2,1666.0L285.2,1663.5L285.3,1661.0L285.3,1658.4L285.4,1655.9L285.4,1653.4L285.5,1650.9L285.5,1648.4L285.6,1645.9L285.7,1643.4L285.7,1640.8L285.8,1638.3L285.8,1635.8L285.9,1633.3L286.0,1630.8L286.0,1628.3L286.1,1625.8L286.2,1623.2L286.2,1620.7L286.3,1618.2L286.3,1615.7L286.4,1613.2L286.5,1610.7L286.5,1608.2L286.6,1605.6L286.7,1603.1L286.8,1600.6L286.8,1598.1L286.9,1595.6L287.0,1593.1L287.0,1590.5L287.1,1588.0L287.2,1585.5L287.3,1583.0L287.3,1580.5L287.4,1578.0L287.5,1575.5L287.6,1572.9L287.7,1570.4L287.7,1567.9L287.8,1565.4L287.9,1562.9L288.0,1560.4L288.1,1557.8L288.1,1555.3L288.2,1552.8L288.3,1550.3L288.4,1547.8L288.5,1545.3L288.6,1542.7L288.7,1540.2L288.8,1537.7L288.8,1535.2L288.9,1532.7L289.0,1530.2L289.1,1527.6L289.2,1525.1L289.3,1522.6L289.4,1520.1L289.5,1517.6L289.6,1515.1L289.7,1512.5L289.8,1510.0L289.9,1507.5L290.0,1505.0L290.1,1502.5L290.2,1500.0L290.3,1497.4L290.4,1494.9L290.5,1492.4L290.7,1489.9L290.8,1487.4L290.9,1484.9L291.0,1482.3L291.1,1479.8L291.3,1477.3L291.4,1474.8L291.5,1472.3L291.7,1469.8L291.8,1467.3L291.9,1464.7L292.1,1462.2L292.2,1459.7L292.4,1457.2L292.5,1454.7L292.7,1452.2L292.8,1449.7L293.0,1447.2L293.1,1444.6L293.3,1442.1L293.5,1439.6L293.7,1437.1L293.8,1434.6L294.0,1432.1L294.2,1429.6L294.4,1427.1L294.6,1424.6L294.8,1422.1L295.0,1419.6L295.2,1417.1L295.4,1414.6L295.7,1412.1L295.9,1409.6L296.1,1407.1L296.3,1404.6L296.6,1402.1L296.8,1399.6L297.1,1397.1L297.3,1394.6L297.6,1392.1L297.9,1389.6L298.1,1387.1L298.4,1384.6L298.7,1382.1L299.0,1379.6L299.3,1377.1L299.6,1374.6L299.9,1372.2L300.2,1369.7L300.5,1367.2L300.9,1364.7L301.2,1362.2L301.6,1359.8L301.9,1357.3L302.3,1354.8L302.7,1352.3L303.1,1349.9L303.6,1347.4L304.0,1345.0L304.5,1342.5L305.0,1340.1L305.6,1337.6L306.1,1335.2L306.7,1332.8L307.3,1330.4L308.0,1327.9L308.7,1325.5L309.4,1323.1L310.1,1320.8L310.9,1318.4L311.7,1316.0L312.6,1313.7L313.5,1311.3L313.6,1313.8L313.6,1316.3L313.7,1318.8L313.7,1321.3L313.8,1323.8L313.9,1326.4L313.9,1328.9L314.0,1331.4L314.1,1333.9L314.2,1336.4L314.3,1338.9L314.3,1341.4L314.4,1343.9L314.5,1346.4L314.6,1348.9L314.7,1351.4L314.8,1353.9L314.9,1356.4L315.0,1359.0L315.2,1361.5L315.3,1364.0L315.4,1366.5L315.5,1369.0L315.6,1371.5L315.8,1374.0L315.9,1376.5L316.0,1379.0L316.2,1381.5L316.3,1384.0L316.4,1386.5L316.6,1389.0L316.7,1391.5L316.9,1394.0L317.0,1396.5L317.1,1399.0L317.3,1401.5L317.4,1404.0L317.6,1406.6L317.8,1409.1L317.9,1411.6L318.1,1414.1L318.2,1416.6L318.4,1419.1L318.6,1421.6L318.7,1424.1L318.9,1426.6L319.1,1429.1L319.2,1431.6L319.4,1434.1L319.6,1436.6L319.8,1439.1L319.9,1441.6L320.1,1444.1L320.3,1446.6L320.5,1449.1L320.7,1451.6L320.8,1454.1L321.0,1456.6L321.2,1459.1L321.4,1461.6L321.6,1464.1L321.8,1466.6L322.0,1469.1L322.2,1471.6L322.3,1474.1L322.5,1476.6L322.7,1479.1L322.9,1481.6L323.1,1484.1L323.3,1486.6L323.5,1489.2L323.7,1491.7L323.9,1494.2L324.1,1496.7L324.3,1499.2L324.5,1501.7L324.7,1504.2L324.9,1506.7L325.0,1509.2L325.2,1511.7L325.4,1514.2L325.6,1516.7L325.8,1519.2L326.0,1521.7L326.2,1524.2L326.4,1526.7L326.6,1529.2L326.8,1531.7L327.0,1534.2L327.2,1536.7L327.4,1539.2L327.6,1541.7L327.8,1544.2L327.9,1546.7L328.1,1549.2L328.3,1551.7L328.5,1554.2L328.7,1556.7L328.9,1559.2L329.1,1561.7L329.3,1564.2L329.5,1566.7L329.6,1569.2L329.8,1571.7L330.0,1574.2L330.2,1576.7L330.4,1579.2L330.6,1581.7L330.7,1584.2L330.9,1586.8L331.1,1589.3L331.3,1591.8L331.5,1594.3L331.6,1596.8L331.8,1599.3L332.0,1601.8L332.2,1604.3L332.4,1606.8L332.5,1609.3L332.7,1611.8L332.9,1614.3L333.0,1616.8L333.2,1619.3L333.4,1621.8L333.5,1624.3L333.7,1626.8L333.9,1629.3L334.0,1631.8L334.2,1634.3L334.4,1636.8L334.5,1639.3L334.7,1641.8L334.9,1644.3L335.0,1646.8L335.2,1649.4L335.3,1651.9L335.5,1654.4L335.6,1656.9L335.8,1659.4L335.9,1661.9L336.1,1664.4L336.2,1666.9L336.4,1669.4L336.5,1671.9L336.7,1674.4L336.8,1676.9L336.9,1679.4L337.1,1681.9L337.2,1684.4L337.4,1686.9L337.5,1689.4L337.6,1691.9L337.8,1694.5L337.9,1697.0L338.0,1699.5L338.1,1702.0L338.3,1704.5L338.4,1707.0L338.5,1709.5L338.6,1712.0L338.8,1714.5L338.9,1717.0L339.0,1719.5L339.1,1722.0L339.2,1724.5L339.3,1727.0L339.5,1729.5L339.6,1732.1L339.7,1734.6L339.8,1737.1L339.9,1739.6L340.0,1742.1L340.1,1744.6L340.2,1747.1L340.3,1749.6L340.4,1752.1L340.5,1754.6L340.6,1757.1L340.7,1759.6L340.8,1762.1L340.9,1764.7L341.0,1767.2L341.1,1769.7L341.2,1772.2L341.3,1774.7L341.3,1777.2L341.4,1779.7L341.5,1782.2L341.6,1784.7L341.7,1787.2L341.8,1789.7L341.9,1792.3L341.9,1794.8L342.0,1797.3L342.1,1799.8L342.2,1802.3L342.3,1804.8L342.3,1807.3L342.4,1809.8L342.5,1812.3L342.6,1814.8L342.6,1817.3L342.7,1819.9L342.8,1822.4L342.8,1824.9L342.9,1827.4L343.0,1829.9L343.0,1832.4L343.1,1834.9L343.2,1837.4L343.2,1839.9L343.3,1842.4L343.4,1844.9L343.4,1847.5L343.5,1850.0L343.6,1852.5L343.6,1855.0L343.7,1857.5L343.7,1860.0L343.8,1862.5L343.8,1865.0L343.9,1867.5L344.0,1870.0L344.0,1872.6L344.1,1875.1L344.1,1877.6L344.2,1880.1L344.2,1882.6L344.3,1885.1L344.3,1887.6L344.4,1890.1L344.4,1892.6L344.5,1895.2L344.5,1897.7L344.6,1900.2L344.6,1902.7L344.7,1905.2L344.7,1907.7L344.8,1910.2L344.8,1912.7L344.9,1915.2L344.9,1917.7L345.0,1920.3L345.0,1922.8L345.1,1925.3L345.1,1927.8L345.1,1930.3L345.2,1932.8L345.2,1935.3L345.3,1937.8L345.3,1940.3L345.4,1942.9L345.4,1945.4L345.4,1947.9L345.5,1950.4L345.5,1952.9L345.6,1955.4L345.6,1957.9L345.6,1960.4L345.7,1962.9L345.7,1965.4L345.8,1968.0L345.8,1970.5L345.8,1973.0L345.9,1975.5L345.9,1978.0L346.0,1980.5L346.0,1983.0L346.0,1985.5L346.1,1988.0L346.1,1990.6L346.1,1993.1L346.2,1995.6L346.2,1998.1L346.3,2000.6L346.3,2003.1L346.3,2005.6L346.4,2008.1L346.4,2010.6L346.4,2013.1L346.5,2015.7L346.5,2018.2L346.6,2020.7L346.6,2023.2L346.6,2025.7L346.7,2028.2L346.7,2030.7L346.7,2033.2L346.8,2035.7L346.8,2038.3L346.9,2040.8L346.9,2043.3L346.9,2045.8L347.0,2048.3L347.0,2050.8L347.0,2053.3L347.1,2055.8L347.1,2058.3L347.2,2060.8L347.2,2063.4L347.2,2065.9L347.3,2068.4L347.3,2070.9L347.4,2073.4L347.4,2075.9L347.4,2078.4L347.5,2080.9L347.5,2083.4L347.6,2085.9L347.6,2088.5L347.7,2091.0L347.7,2093.5L347.7,2096.0L347.8,2098.5L347.8,2101.0L347.9,2103.5L347.9,2106.0L348.0,2108.5L348.0,2111.0L348.1,2113.5L348.1,2116.1L348.2,2118.6L348.2,2121.1L348.3,2123.6L348.3,2126.1L348.4,2128.6L348.4,2131.1L348.5,2133.6L348.5,2136.1L348.6,2138.6L348.6,2141.1L348.7,2143.6L348.7,2146.2L348.8,2148.7L348.8,2151.2L348.9,2153.7L348.9,2156.2L349.0,2158.7"/>
</g>
<text x="250.5" y="81.0" font-size="48" text-anchor="end" letter-spacing="-1">0.4</text>
<text x="250.5" y="292.9" font-size="48" text-anchor="end" letter-spacing="-1">0.2</text>
<text x="250.5" y="504.8" font-size="48" text-anchor="end" letter-spacing="-1">0.0</text>
<text x="250.5" y="716.6" font-size="48" text-anchor="end" letter-spacing="-1">-0.2</text>
<text x="250.5" y="928.5" font-size="48" text-anchor="end" letter-spacing="-1">-0.4</text>
<text x="278.0" y="979.0" font-size="48" text-anchor="middle" letter-spacing="-1">-0.1</text>
<text x="469.4" y="979.0" font-size="48" text-anchor="middle" letter-spacing="-1">0.0</text>
<text x="658.8" y="979.0" font-size="48" text-anchor="middle" letter-spacing="-1">0.1</text>
<text x="848.3" y="979.0" font-size="48" text-anchor="middle" letter-spacing="-1">0.2</text>
<text x="1037.7" y="979.0" font-size="48" text-anchor="middle" letter-spacing="-1">0.3</text>
<text x="1227.1" y="979.0" font-size="48" text-anchor="middle" letter-spacing="-1">0.4</text>
<text x="1416.5" y="979.0" font-size="48" text-anchor="middle" letter-spacing="-1">0.5</text>
<text x="250.5" y="1403.5" font-size="48" text-anchor="end" letter-spacing="-1">0.4</text>
<text x="250.5" y="1557.6" font-size="48" text-anchor="end" letter-spacing="-1">0.3</text>
<text x="250.5" y="1711.7" font-size="48" text-anchor="end" letter-spacing="-1">0.2</text>
<text x="250.5" y="1865.8" font-size="48" text-anchor="end" letter-spacing="-1">0.1</text>
<text x="250.5" y="2019.9" font-size="48" text-anchor="end" letter-spacing="-1">0.0</text>
<text x="250.5" y="2174.0" font-size="48" text-anchor="end" letter-spacing="-1">-0.1</text>
<text x="279.0" y="2224.0" font-size="48" text-anchor="middle" letter-spacing="-1">0</text>
<text x="563.1" y="2224.0" font-size="48" text-anchor="middle" letter-spacing="-1">300</text>
<text x="847.2" y="2224.0" font-size="48" text-anchor="middle" letter-spacing="-1">600</text>
<text x="1131.4" y="2224.0" font-size="48" text-anchor="middle" letter-spacing="-1">900</text>
<text x="1415.5" y="2224.0" font-size="48" text-anchor="middle" letter-spacing="-1">1200</text>
<text x="847" y="1074.5" font-size="66.5" font-weight="bold" text-anchor="middle">Potential(V)</text>
<text x="848" y="2322" font-size="66" font-weight="bold" text-anchor="middle">Time(s)</text>
<text transform="translate(138.3,536) scale(1.055,1) rotate(-90)" font-size="67" font-weight="bold" text-anchor="middle">Current(A)</text>
<text transform="translate(137.8,1779.5) scale(1.05,1) rotate(-90)" font-size="66.3" font-weight="bold" text-anchor="middle">Potential(V)</text>
<rect x="287" y="74" width="361" height="301" fill="#fff"/>
<g fill="#000"><rect x="287" y="74" width="361" height="3"/><rect x="287" y="373" width="361" height="2"/><rect x="287" y="74" width="3" height="301"/><rect x="646" y="74" width="2" height="301"/></g>
<line x1="306.7" y1="127.0" x2="412.3" y2="127.0" stroke="#000" stroke-width="7.5" stroke-linecap="round"/>
<text x="424.0" y="142.5" font-size="48" font-weight="bold" letter-spacing="-0.3">(5mV s<tspan font-size="29" dy="-26.7">-1</tspan><tspan dy="26.7">)</tspan></text>
<line x1="306.7" y1="195.4" x2="412.3" y2="195.4" stroke="#f00" stroke-width="7.5" stroke-linecap="round"/>
<text x="424.0" y="210.9" font-size="48" font-weight="bold" letter-spacing="-0.3">(10mV s<tspan font-size="29" dy="-26.7">-1</tspan><tspan dy="26.7">)</tspan></text>
<line x1="306.7" y1="264.0" x2="412.3" y2="264.0" stroke="#0f0" stroke-width="7.5" stroke-linecap="round"/>
<text x="424.0" y="279.5" font-size="48" font-weight="bold" letter-spacing="-0.3">(25mV s<tspan font-size="29" dy="-26.7">-1</tspan><tspan dy="26.7">)</tspan></text>
<line x1="306.7" y1="332.3" x2="412.3" y2="332.3" stroke="#00f" stroke-width="7.5" stroke-linecap="round"/>
<text x="424.0" y="347.8" font-size="48" font-weight="bold" letter-spacing="-0.3">(50mV s<tspan font-size="29" dy="-26.7">-1</tspan><tspan dy="26.7">)</tspan></text>
<rect x="1063" y="1318" width="345" height="304.6" fill="#fff"/>
<g fill="#000"><rect x="1063" y="1318" width="345" height="2"/><rect x="1063" y="1620" width="345" height="2.6"/><rect x="1063" y="1318" width="2" height="304.6"/><rect x="1406" y="1318" width="2" height="304.6"/></g>
<line x1="1084.8" y1="1372.9" x2="1191.0" y2="1372.9" stroke="#000" stroke-width="7.5" stroke-linecap="round"/>
<text x="1204.0" y="1388.4" font-size="48" font-weight="bold" letter-spacing="-0.3">(2.5A g<tspan font-size="29" dy="-26.7">-1</tspan><tspan dy="26.7">)</tspan></text>
<line x1="1084.8" y1="1441.0" x2="1191.0" y2="1441.0" stroke="#f00" stroke-width="7.5" stroke-linecap="round"/>
<text x="1204.0" y="1456.5" font-size="48" font-weight="bold" letter-spacing="-0.3">(5A g<tspan font-size="29" dy="-26.7">-1</tspan><tspan dy="26.7">)</tspan></text>
<line x1="1084.8" y1="1509.4" x2="1191.0" y2="1509.4" stroke="#0f0" stroke-width="7.5" stroke-linecap="round"/>
<text x="1204.0" y="1524.9" font-size="48" font-weight="bold" letter-spacing="-0.3">(10A g<tspan font-size="29" dy="-26.7">-1</tspan><tspan dy="26.7">)</tspan></text>
<line x1="1084.8" y1="1577.4" x2="1191.0" y2="1577.4" stroke="#00f" stroke-width="7.5" stroke-linecap="round"/>
<text x="1204.0" y="1592.9" font-size="48" font-weight="bold" letter-spacing="-0.3">(20A g<tspan font-size="29" dy="-26.7">-1</tspan><tspan dy="26.7">)</tspan></text>
</svg></body></html>
